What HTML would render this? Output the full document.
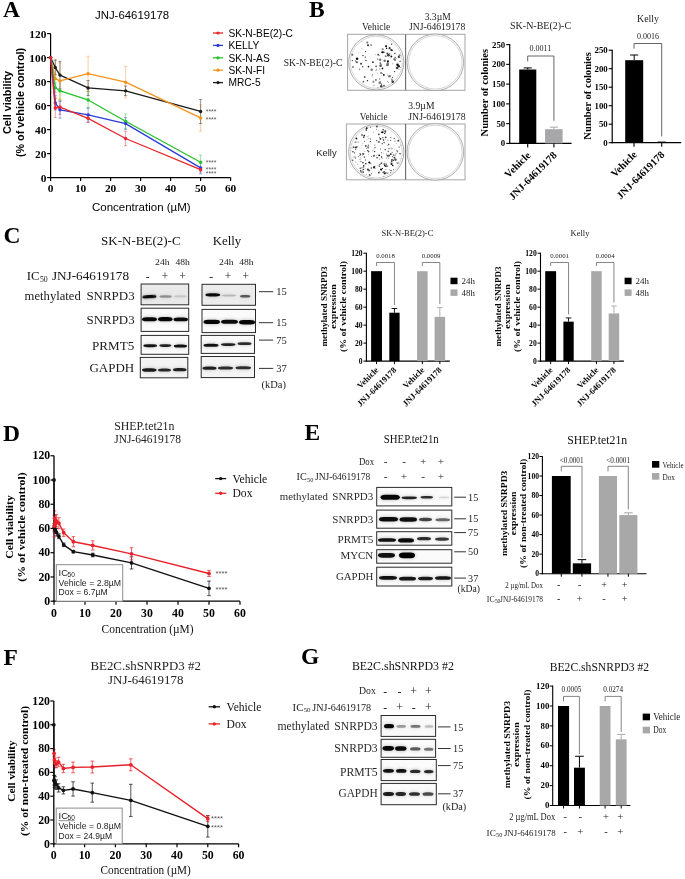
<!DOCTYPE html>
<html><head><meta charset="utf-8"><style>
html,body{margin:0;padding:0;background:#fff;}
svg{display:block;will-change:transform;filter:blur(0.3px);}
</style></head><body>
<svg width="685" height="879" viewBox="0 0 685 879">
<defs><filter id="bl" x="-20%" y="-100%" width="140%" height="300%"><feGaussianBlur stdDeviation="0.7"/></filter><filter id="bl2" x="-30%" y="-150%" width="160%" height="400%"><feGaussianBlur stdDeviation="1.4"/></filter></defs>
<rect width="685" height="879" fill="#fff"/>
<text x="3.00" y="17.30" font-family='"Liberation Serif", serif' font-size="23.5" font-weight="bold" text-anchor="start" fill="#000" >A</text>
<text x="95.00" y="19.30" font-family='"Liberation Sans", sans-serif' font-size="11.4" font-weight="normal" text-anchor="start" fill="#000" >JNJ-64619178</text>
<line x1="50.60" y1="33.60" x2="50.60" y2="178.20" stroke="#000" stroke-width="1.2" />
<line x1="50.00" y1="177.60" x2="230.60" y2="177.60" stroke="#000" stroke-width="1.2" />
<line x1="47.10" y1="177.60" x2="50.60" y2="177.60" stroke="#000" stroke-width="1.2" />
<text x="46.40" y="181.50" font-family='"Liberation Serif", serif' font-size="11.4" font-weight="bold" text-anchor="end" fill="#000" >0</text>
<line x1="47.10" y1="153.60" x2="50.60" y2="153.60" stroke="#000" stroke-width="1.2" />
<text x="46.40" y="157.50" font-family='"Liberation Serif", serif' font-size="11.4" font-weight="bold" text-anchor="end" fill="#000" >20</text>
<line x1="47.10" y1="129.60" x2="50.60" y2="129.60" stroke="#000" stroke-width="1.2" />
<text x="46.40" y="133.50" font-family='"Liberation Serif", serif' font-size="11.4" font-weight="bold" text-anchor="end" fill="#000" >40</text>
<line x1="47.10" y1="105.60" x2="50.60" y2="105.60" stroke="#000" stroke-width="1.2" />
<text x="46.40" y="109.50" font-family='"Liberation Serif", serif' font-size="11.4" font-weight="bold" text-anchor="end" fill="#000" >60</text>
<line x1="47.10" y1="81.60" x2="50.60" y2="81.60" stroke="#000" stroke-width="1.2" />
<text x="46.40" y="85.50" font-family='"Liberation Serif", serif' font-size="11.4" font-weight="bold" text-anchor="end" fill="#000" >80</text>
<line x1="47.10" y1="57.60" x2="50.60" y2="57.60" stroke="#000" stroke-width="1.2" />
<text x="46.40" y="61.50" font-family='"Liberation Serif", serif' font-size="11.4" font-weight="bold" text-anchor="end" fill="#000" >100</text>
<line x1="47.10" y1="33.60" x2="50.60" y2="33.60" stroke="#000" stroke-width="1.2" />
<text x="46.40" y="37.50" font-family='"Liberation Serif", serif' font-size="11.4" font-weight="bold" text-anchor="end" fill="#000" >120</text>
<line x1="50.60" y1="177.60" x2="50.60" y2="181.10" stroke="#000" stroke-width="1.2" />
<text x="50.60" y="192.30" font-family='"Liberation Serif", serif' font-size="11.4" font-weight="bold" text-anchor="middle" fill="#000" >0</text>
<line x1="80.60" y1="177.60" x2="80.60" y2="181.10" stroke="#000" stroke-width="1.2" />
<text x="80.60" y="192.30" font-family='"Liberation Serif", serif' font-size="11.4" font-weight="bold" text-anchor="middle" fill="#000" >10</text>
<line x1="110.60" y1="177.60" x2="110.60" y2="181.10" stroke="#000" stroke-width="1.2" />
<text x="110.60" y="192.30" font-family='"Liberation Serif", serif' font-size="11.4" font-weight="bold" text-anchor="middle" fill="#000" >20</text>
<line x1="140.60" y1="177.60" x2="140.60" y2="181.10" stroke="#000" stroke-width="1.2" />
<text x="140.60" y="192.30" font-family='"Liberation Serif", serif' font-size="11.4" font-weight="bold" text-anchor="middle" fill="#000" >30</text>
<line x1="170.60" y1="177.60" x2="170.60" y2="181.10" stroke="#000" stroke-width="1.2" />
<text x="170.60" y="192.30" font-family='"Liberation Serif", serif' font-size="11.4" font-weight="bold" text-anchor="middle" fill="#000" >40</text>
<line x1="200.60" y1="177.60" x2="200.60" y2="181.10" stroke="#000" stroke-width="1.2" />
<text x="200.60" y="192.30" font-family='"Liberation Serif", serif' font-size="11.4" font-weight="bold" text-anchor="middle" fill="#000" >50</text>
<line x1="230.60" y1="177.60" x2="230.60" y2="181.10" stroke="#000" stroke-width="1.2" />
<text x="230.60" y="192.30" font-family='"Liberation Serif", serif' font-size="11.4" font-weight="bold" text-anchor="middle" fill="#000" >60</text>
<text x="141.30" y="210.70" font-family='"Liberation Sans", sans-serif' font-size="11.5" font-weight="normal" text-anchor="middle" fill="#000" >Concentration (µM)</text>
<text x="11.20" y="102.50" font-family='"Liberation Sans", sans-serif' font-size="10.8" font-weight="bold" text-anchor="middle" fill="#000" transform="rotate(-90 11.20 102.50)" >Cell viability</text>
<text x="23.80" y="102.50" font-family='"Liberation Sans", sans-serif' font-size="10.8" font-weight="bold" text-anchor="middle" fill="#000" transform="rotate(-90 23.80 102.50)" >(% of vehicle control)</text>
<line x1="55.29" y1="117.60" x2="55.29" y2="98.40" stroke="#e8262b" stroke-width="0.8" opacity="0.55"/>
<line x1="53.69" y1="98.40" x2="56.89" y2="98.40" stroke="#e8262b" stroke-width="0.8" opacity="0.55"/>
<line x1="53.69" y1="117.60" x2="56.89" y2="117.60" stroke="#e8262b" stroke-width="0.8" opacity="0.55"/>
<line x1="59.98" y1="114.24" x2="59.98" y2="99.84" stroke="#e8262b" stroke-width="0.8" opacity="0.55"/>
<line x1="58.38" y1="99.84" x2="61.58" y2="99.84" stroke="#e8262b" stroke-width="0.8" opacity="0.55"/>
<line x1="58.38" y1="114.24" x2="61.58" y2="114.24" stroke="#e8262b" stroke-width="0.8" opacity="0.55"/>
<line x1="88.10" y1="122.52" x2="88.10" y2="114.12" stroke="#e8262b" stroke-width="0.8" opacity="0.55"/>
<line x1="86.50" y1="114.12" x2="89.70" y2="114.12" stroke="#e8262b" stroke-width="0.8" opacity="0.55"/>
<line x1="86.50" y1="122.52" x2="89.70" y2="122.52" stroke="#e8262b" stroke-width="0.8" opacity="0.55"/>
<line x1="125.60" y1="145.68" x2="125.60" y2="131.28" stroke="#e8262b" stroke-width="0.8" opacity="0.55"/>
<line x1="124.00" y1="131.28" x2="127.20" y2="131.28" stroke="#e8262b" stroke-width="0.8" opacity="0.55"/>
<line x1="124.00" y1="145.68" x2="127.20" y2="145.68" stroke="#e8262b" stroke-width="0.8" opacity="0.55"/>
<line x1="200.60" y1="172.08" x2="200.60" y2="167.28" stroke="#e8262b" stroke-width="0.8" opacity="0.55"/>
<line x1="199.00" y1="167.28" x2="202.20" y2="167.28" stroke="#e8262b" stroke-width="0.8" opacity="0.55"/>
<line x1="199.00" y1="172.08" x2="202.20" y2="172.08" stroke="#e8262b" stroke-width="0.8" opacity="0.55"/>
<line x1="55.29" y1="110.04" x2="55.29" y2="95.64" stroke="#2b3bd6" stroke-width="0.8" opacity="0.55"/>
<line x1="53.69" y1="95.64" x2="56.89" y2="95.64" stroke="#2b3bd6" stroke-width="0.8" opacity="0.55"/>
<line x1="53.69" y1="110.04" x2="56.89" y2="110.04" stroke="#2b3bd6" stroke-width="0.8" opacity="0.55"/>
<line x1="59.98" y1="118.20" x2="59.98" y2="101.40" stroke="#2b3bd6" stroke-width="0.8" opacity="0.55"/>
<line x1="58.38" y1="101.40" x2="61.58" y2="101.40" stroke="#2b3bd6" stroke-width="0.8" opacity="0.55"/>
<line x1="58.38" y1="118.20" x2="61.58" y2="118.20" stroke="#2b3bd6" stroke-width="0.8" opacity="0.55"/>
<line x1="88.10" y1="122.04" x2="88.10" y2="107.64" stroke="#2b3bd6" stroke-width="0.8" opacity="0.55"/>
<line x1="86.50" y1="107.64" x2="89.70" y2="107.64" stroke="#2b3bd6" stroke-width="0.8" opacity="0.55"/>
<line x1="86.50" y1="122.04" x2="89.70" y2="122.04" stroke="#2b3bd6" stroke-width="0.8" opacity="0.55"/>
<line x1="125.60" y1="129.60" x2="125.60" y2="117.60" stroke="#2b3bd6" stroke-width="0.8" opacity="0.55"/>
<line x1="124.00" y1="117.60" x2="127.20" y2="117.60" stroke="#2b3bd6" stroke-width="0.8" opacity="0.55"/>
<line x1="124.00" y1="129.60" x2="127.20" y2="129.60" stroke="#2b3bd6" stroke-width="0.8" opacity="0.55"/>
<line x1="200.60" y1="173.88" x2="200.60" y2="161.88" stroke="#2b3bd6" stroke-width="0.8" opacity="0.55"/>
<line x1="199.00" y1="161.88" x2="202.20" y2="161.88" stroke="#2b3bd6" stroke-width="0.8" opacity="0.55"/>
<line x1="199.00" y1="173.88" x2="202.20" y2="173.88" stroke="#2b3bd6" stroke-width="0.8" opacity="0.55"/>
<line x1="55.29" y1="92.40" x2="55.29" y2="82.80" stroke="#27c32a" stroke-width="0.8" opacity="0.55"/>
<line x1="53.69" y1="82.80" x2="56.89" y2="82.80" stroke="#27c32a" stroke-width="0.8" opacity="0.55"/>
<line x1="53.69" y1="92.40" x2="56.89" y2="92.40" stroke="#27c32a" stroke-width="0.8" opacity="0.55"/>
<line x1="59.98" y1="100.44" x2="59.98" y2="81.24" stroke="#27c32a" stroke-width="0.8" opacity="0.55"/>
<line x1="58.38" y1="81.24" x2="61.58" y2="81.24" stroke="#27c32a" stroke-width="0.8" opacity="0.55"/>
<line x1="58.38" y1="100.44" x2="61.58" y2="100.44" stroke="#27c32a" stroke-width="0.8" opacity="0.55"/>
<line x1="88.10" y1="108.36" x2="88.10" y2="91.56" stroke="#27c32a" stroke-width="0.8" opacity="0.55"/>
<line x1="86.50" y1="91.56" x2="89.70" y2="91.56" stroke="#27c32a" stroke-width="0.8" opacity="0.55"/>
<line x1="86.50" y1="108.36" x2="89.70" y2="108.36" stroke="#27c32a" stroke-width="0.8" opacity="0.55"/>
<line x1="125.60" y1="128.40" x2="125.60" y2="114.00" stroke="#27c32a" stroke-width="0.8" opacity="0.55"/>
<line x1="124.00" y1="114.00" x2="127.20" y2="114.00" stroke="#27c32a" stroke-width="0.8" opacity="0.55"/>
<line x1="124.00" y1="128.40" x2="127.20" y2="128.40" stroke="#27c32a" stroke-width="0.8" opacity="0.55"/>
<line x1="200.60" y1="169.32" x2="200.60" y2="155.16" stroke="#27c32a" stroke-width="0.8" opacity="0.55"/>
<line x1="199.00" y1="155.16" x2="202.20" y2="155.16" stroke="#27c32a" stroke-width="0.8" opacity="0.55"/>
<line x1="199.00" y1="169.32" x2="202.20" y2="169.32" stroke="#27c32a" stroke-width="0.8" opacity="0.55"/>
<line x1="55.29" y1="97.80" x2="55.29" y2="59.40" stroke="#f4931e" stroke-width="0.8" opacity="0.55"/>
<line x1="53.69" y1="59.40" x2="56.89" y2="59.40" stroke="#f4931e" stroke-width="0.8" opacity="0.55"/>
<line x1="53.69" y1="97.80" x2="56.89" y2="97.80" stroke="#f4931e" stroke-width="0.8" opacity="0.55"/>
<line x1="59.98" y1="98.88" x2="59.98" y2="62.88" stroke="#f4931e" stroke-width="0.8" opacity="0.55"/>
<line x1="58.38" y1="62.88" x2="61.58" y2="62.88" stroke="#f4931e" stroke-width="0.8" opacity="0.55"/>
<line x1="58.38" y1="98.88" x2="61.58" y2="98.88" stroke="#f4931e" stroke-width="0.8" opacity="0.55"/>
<line x1="88.10" y1="91.08" x2="88.10" y2="56.28" stroke="#f4931e" stroke-width="0.8" opacity="0.55"/>
<line x1="86.50" y1="56.28" x2="89.70" y2="56.28" stroke="#f4931e" stroke-width="0.8" opacity="0.55"/>
<line x1="86.50" y1="91.08" x2="89.70" y2="91.08" stroke="#f4931e" stroke-width="0.8" opacity="0.55"/>
<line x1="125.60" y1="97.80" x2="125.60" y2="66.60" stroke="#f4931e" stroke-width="0.8" opacity="0.55"/>
<line x1="124.00" y1="66.60" x2="127.20" y2="66.60" stroke="#f4931e" stroke-width="0.8" opacity="0.55"/>
<line x1="124.00" y1="97.80" x2="127.20" y2="97.80" stroke="#f4931e" stroke-width="0.8" opacity="0.55"/>
<line x1="200.60" y1="131.16" x2="200.60" y2="104.76" stroke="#f4931e" stroke-width="0.8" opacity="0.55"/>
<line x1="199.00" y1="104.76" x2="202.20" y2="104.76" stroke="#f4931e" stroke-width="0.8" opacity="0.55"/>
<line x1="199.00" y1="131.16" x2="202.20" y2="131.16" stroke="#f4931e" stroke-width="0.8" opacity="0.55"/>
<line x1="55.29" y1="74.76" x2="55.29" y2="60.36" stroke="#1a1a1a" stroke-width="0.8" opacity="0.55"/>
<line x1="53.69" y1="60.36" x2="56.89" y2="60.36" stroke="#1a1a1a" stroke-width="0.8" opacity="0.55"/>
<line x1="53.69" y1="74.76" x2="56.89" y2="74.76" stroke="#1a1a1a" stroke-width="0.8" opacity="0.55"/>
<line x1="59.98" y1="88.92" x2="59.98" y2="61.32" stroke="#1a1a1a" stroke-width="0.8" opacity="0.55"/>
<line x1="58.38" y1="61.32" x2="61.58" y2="61.32" stroke="#1a1a1a" stroke-width="0.8" opacity="0.55"/>
<line x1="58.38" y1="88.92" x2="61.58" y2="88.92" stroke="#1a1a1a" stroke-width="0.8" opacity="0.55"/>
<line x1="88.10" y1="95.52" x2="88.10" y2="80.40" stroke="#1a1a1a" stroke-width="0.8" opacity="0.55"/>
<line x1="86.50" y1="80.40" x2="89.70" y2="80.40" stroke="#1a1a1a" stroke-width="0.8" opacity="0.55"/>
<line x1="86.50" y1="95.52" x2="89.70" y2="95.52" stroke="#1a1a1a" stroke-width="0.8" opacity="0.55"/>
<line x1="125.60" y1="95.64" x2="125.60" y2="86.04" stroke="#1a1a1a" stroke-width="0.8" opacity="0.55"/>
<line x1="124.00" y1="86.04" x2="127.20" y2="86.04" stroke="#1a1a1a" stroke-width="0.8" opacity="0.55"/>
<line x1="124.00" y1="95.64" x2="127.20" y2="95.64" stroke="#1a1a1a" stroke-width="0.8" opacity="0.55"/>
<line x1="200.60" y1="123.48" x2="200.60" y2="99.48" stroke="#1a1a1a" stroke-width="0.8" opacity="0.55"/>
<line x1="199.00" y1="99.48" x2="202.20" y2="99.48" stroke="#1a1a1a" stroke-width="0.8" opacity="0.55"/>
<line x1="199.00" y1="123.48" x2="202.20" y2="123.48" stroke="#1a1a1a" stroke-width="0.8" opacity="0.55"/>
<path d="M50.60 57.60 L55.29 67.56 L59.98 75.12 L88.10 87.96 L125.60 90.84 L200.60 111.48" stroke="#1a1a1a" stroke-width="1.3" fill="none"  stroke-linejoin="round"/>
<circle cx="50.60" cy="57.60" r="1.70" fill="#1a1a1a" />
<circle cx="55.29" cy="67.56" r="1.70" fill="#1a1a1a" />
<circle cx="59.98" cy="75.12" r="1.70" fill="#1a1a1a" />
<circle cx="88.10" cy="87.96" r="1.70" fill="#1a1a1a" />
<circle cx="125.60" cy="90.84" r="1.70" fill="#1a1a1a" />
<circle cx="200.60" cy="111.48" r="1.70" fill="#1a1a1a" />
<path d="M50.60 57.60 L55.29 78.60 L59.98 80.88 L88.10 73.68 L125.60 82.20 L200.60 117.96" stroke="#f4931e" stroke-width="1.3" fill="none"  stroke-linejoin="round"/>
<circle cx="50.60" cy="57.60" r="1.70" fill="#f4931e" />
<circle cx="55.29" cy="78.60" r="1.70" fill="#f4931e" />
<circle cx="59.98" cy="80.88" r="1.70" fill="#f4931e" />
<circle cx="88.10" cy="73.68" r="1.70" fill="#f4931e" />
<circle cx="125.60" cy="82.20" r="1.70" fill="#f4931e" />
<circle cx="200.60" cy="117.96" r="1.70" fill="#f4931e" />
<path d="M50.60 57.60 L55.29 87.60 L59.98 90.84 L88.10 99.96 L125.60 121.20 L200.60 162.24" stroke="#27c32a" stroke-width="1.3" fill="none"  stroke-linejoin="round"/>
<circle cx="50.60" cy="57.60" r="1.70" fill="#27c32a" />
<circle cx="55.29" cy="87.60" r="1.70" fill="#27c32a" />
<circle cx="59.98" cy="90.84" r="1.70" fill="#27c32a" />
<circle cx="88.10" cy="99.96" r="1.70" fill="#27c32a" />
<circle cx="125.60" cy="121.20" r="1.70" fill="#27c32a" />
<circle cx="200.60" cy="162.24" r="1.70" fill="#27c32a" />
<path d="M50.60 57.60 L55.29 102.84 L59.98 109.80 L88.10 114.84 L125.60 123.60 L200.60 167.88" stroke="#2b3bd6" stroke-width="1.3" fill="none"  stroke-linejoin="round"/>
<circle cx="50.60" cy="57.60" r="1.70" fill="#2b3bd6" />
<circle cx="55.29" cy="102.84" r="1.70" fill="#2b3bd6" />
<circle cx="59.98" cy="109.80" r="1.70" fill="#2b3bd6" />
<circle cx="88.10" cy="114.84" r="1.70" fill="#2b3bd6" />
<circle cx="125.60" cy="123.60" r="1.70" fill="#2b3bd6" />
<circle cx="200.60" cy="167.88" r="1.70" fill="#2b3bd6" />
<path d="M50.60 57.60 L55.29 108.00 L59.98 107.04 L88.10 118.32 L125.60 138.48 L200.60 169.68" stroke="#e8262b" stroke-width="1.3" fill="none"  stroke-linejoin="round"/>
<circle cx="50.60" cy="57.60" r="1.70" fill="#e8262b" />
<circle cx="55.29" cy="108.00" r="1.70" fill="#e8262b" />
<circle cx="59.98" cy="107.04" r="1.70" fill="#e8262b" />
<circle cx="88.10" cy="118.32" r="1.70" fill="#e8262b" />
<circle cx="125.60" cy="138.48" r="1.70" fill="#e8262b" />
<circle cx="200.60" cy="169.68" r="1.70" fill="#e8262b" />
<line x1="213.00" y1="33.00" x2="223.00" y2="33.00" stroke="#e8262b" stroke-width="1.3" />
<circle cx="218.00" cy="33.00" r="1.60" fill="#e8262b" />
<text x="228.40" y="36.70" font-family='"Liberation Sans", sans-serif' font-size="10.2" font-weight="normal" text-anchor="start" fill="#000" >SK-N-BE(2)-C</text>
<line x1="213.00" y1="45.40" x2="223.00" y2="45.40" stroke="#2b3bd6" stroke-width="1.3" />
<circle cx="218.00" cy="45.40" r="1.60" fill="#2b3bd6" />
<text x="228.40" y="49.10" font-family='"Liberation Sans", sans-serif' font-size="10.2" font-weight="normal" text-anchor="start" fill="#000" >KELLY</text>
<line x1="213.00" y1="57.80" x2="223.00" y2="57.80" stroke="#27c32a" stroke-width="1.3" />
<circle cx="218.00" cy="57.80" r="1.60" fill="#27c32a" />
<text x="228.40" y="61.50" font-family='"Liberation Sans", sans-serif' font-size="10.2" font-weight="normal" text-anchor="start" fill="#000" >SK-N-AS</text>
<line x1="213.00" y1="70.20" x2="223.00" y2="70.20" stroke="#f4931e" stroke-width="1.3" />
<circle cx="218.00" cy="70.20" r="1.60" fill="#f4931e" />
<text x="228.40" y="73.90" font-family='"Liberation Sans", sans-serif' font-size="10.2" font-weight="normal" text-anchor="start" fill="#000" >SK-N-FI</text>
<line x1="213.00" y1="82.60" x2="223.00" y2="82.60" stroke="#1a1a1a" stroke-width="1.3" />
<circle cx="218.00" cy="82.60" r="1.60" fill="#1a1a1a" />
<text x="228.40" y="86.30" font-family='"Liberation Sans", sans-serif' font-size="10.2" font-weight="normal" text-anchor="start" fill="#000" >MRC-5</text>
<text x="205.80" y="114.30" font-family='"Liberation Sans", sans-serif' font-size="6.8" font-weight="normal" text-anchor="start" fill="#555" >****</text>
<text x="205.80" y="121.60" font-family='"Liberation Sans", sans-serif' font-size="6.8" font-weight="normal" text-anchor="start" fill="#555" >****</text>
<text x="205.80" y="165.40" font-family='"Liberation Sans", sans-serif' font-size="6.8" font-weight="normal" text-anchor="start" fill="#555" >****</text>
<text x="205.80" y="171.60" font-family='"Liberation Sans", sans-serif' font-size="6.8" font-weight="normal" text-anchor="start" fill="#555" >****</text>
<text x="205.80" y="176.10" font-family='"Liberation Sans", sans-serif' font-size="6.8" font-weight="normal" text-anchor="start" fill="#555" >****</text>
<text x="309.00" y="17.30" font-family='"Liberation Serif", serif' font-size="23.5" font-weight="bold" text-anchor="start" fill="#000" >B</text>
<rect x="347.60" y="34.30" width="117.40" height="56.00" fill="#fff" stroke="#a5a5a5" stroke-width="1.0" />
<line x1="405.60" y1="34.30" x2="405.60" y2="90.30" stroke="#6a6a6a" stroke-width="1.1" />
<circle cx="376.30" cy="62.30" r="27.60" fill="#fff" stroke="#999" stroke-width="0.8"/>
<circle cx="376.30" cy="62.30" r="26.00" fill="none" stroke="#bbb" stroke-width="0.6"/>
<circle cx="392.00" cy="79.96" r="0.66" fill="#000" />
<circle cx="378.19" cy="54.67" r="0.84" fill="#333" />
<circle cx="373.95" cy="85.16" r="0.48" fill="#222" />
<circle cx="380.32" cy="63.08" r="0.84" fill="#555" />
<circle cx="379.77" cy="78.61" r="0.60" fill="#777" />
<circle cx="359.59" cy="69.18" r="0.60" fill="#555" />
<circle cx="379.69" cy="79.37" r="0.42" fill="#333" />
<circle cx="386.31" cy="45.98" r="0.54" fill="#555" />
<circle cx="400.08" cy="61.19" r="0.72" fill="#555" />
<circle cx="394.21" cy="59.26" r="1.08" fill="#777" />
<circle cx="385.75" cy="56.32" r="0.96" fill="#777" />
<circle cx="391.30" cy="56.46" r="0.96" fill="#111" />
<circle cx="375.74" cy="54.77" r="0.48" fill="#777" />
<circle cx="388.44" cy="82.45" r="0.42" fill="#333" />
<circle cx="397.03" cy="68.11" r="1.26" fill="#444" />
<circle cx="367.99" cy="68.87" r="0.42" fill="#777" />
<circle cx="383.98" cy="85.69" r="0.84" fill="#444" />
<circle cx="363.16" cy="81.94" r="0.66" fill="#555" />
<circle cx="352.32" cy="54.84" r="1.08" fill="#777" />
<circle cx="391.87" cy="78.72" r="0.42" fill="#333" />
<circle cx="389.57" cy="48.17" r="1.08" fill="#333" />
<circle cx="361.04" cy="63.75" r="1.08" fill="#444" />
<circle cx="361.96" cy="48.23" r="0.42" fill="#777" />
<circle cx="377.68" cy="73.02" r="0.48" fill="#777" />
<circle cx="400.72" cy="67.35" r="0.42" fill="#333" />
<circle cx="398.52" cy="64.34" r="0.48" fill="#777" />
<circle cx="365.63" cy="51.66" r="0.54" fill="#222" />
<circle cx="365.93" cy="60.50" r="0.66" fill="#333" />
<circle cx="371.00" cy="45.01" r="0.66" fill="#333" />
<circle cx="363.62" cy="81.38" r="0.66" fill="#555" />
<circle cx="377.81" cy="58.92" r="0.54" fill="#000" />
<circle cx="368.04" cy="45.25" r="1.08" fill="#333" />
<circle cx="379.76" cy="82.68" r="1.26" fill="#777" />
<circle cx="367.47" cy="80.68" r="0.66" fill="#111" />
<circle cx="399.83" cy="57.49" r="0.48" fill="#222" />
<circle cx="388.45" cy="55.33" r="1.26" fill="#222" />
<circle cx="389.42" cy="76.34" r="1.26" fill="#777" />
<circle cx="381.23" cy="86.16" r="1.26" fill="#444" />
<circle cx="387.47" cy="64.98" r="1.26" fill="#555" />
<circle cx="392.02" cy="50.36" r="0.84" fill="#222" />
<circle cx="372.93" cy="62.21" r="0.84" fill="#222" />
<circle cx="387.73" cy="63.60" r="1.26" fill="#777" />
<circle cx="387.41" cy="74.92" r="0.48" fill="#777" />
<circle cx="386.12" cy="46.31" r="1.08" fill="#111" />
<circle cx="381.03" cy="64.36" r="0.54" fill="#444" />
<circle cx="381.46" cy="84.06" r="0.66" fill="#222" />
<circle cx="371.71" cy="69.65" r="1.26" fill="#777" />
<circle cx="399.49" cy="55.45" r="1.08" fill="#777" />
<circle cx="380.33" cy="65.39" r="0.54" fill="#777" />
<circle cx="382.45" cy="68.45" r="0.84" fill="#000" />
<circle cx="365.34" cy="57.08" r="0.66" fill="#222" />
<circle cx="391.22" cy="50.08" r="0.96" fill="#222" />
<circle cx="380.58" cy="65.74" r="1.26" fill="#555" />
<circle cx="392.74" cy="63.81" r="0.42" fill="#111" />
<circle cx="377.96" cy="87.76" r="0.48" fill="#333" />
<circle cx="382.56" cy="73.25" r="0.48" fill="#333" />
<circle cx="389.67" cy="53.91" r="0.66" fill="#444" />
<circle cx="375.92" cy="80.02" r="0.72" fill="#000" />
<circle cx="398.74" cy="66.18" r="1.26" fill="#222" />
<circle cx="362.64" cy="66.75" r="0.72" fill="#444" />
<circle cx="384.71" cy="60.68" r="1.26" fill="#777" />
<circle cx="395.06" cy="59.92" r="0.72" fill="#222" />
<circle cx="381.07" cy="72.99" r="0.72" fill="#000" />
<circle cx="379.57" cy="55.35" r="0.48" fill="#555" />
<circle cx="362.96" cy="55.57" r="0.66" fill="#000" />
<circle cx="387.38" cy="53.54" r="1.08" fill="#444" />
<circle cx="358.88" cy="52.86" r="0.42" fill="#777" />
<circle cx="376.57" cy="69.20" r="0.48" fill="#555" />
<circle cx="394.52" cy="71.60" r="0.72" fill="#333" />
<circle cx="352.96" cy="66.93" r="0.72" fill="#000" />
<circle cx="355.40" cy="61.08" r="0.54" fill="#111" />
<circle cx="382.61" cy="49.23" r="1.08" fill="#777" />
<circle cx="388.46" cy="55.55" r="0.54" fill="#444" />
<circle cx="380.17" cy="59.86" r="1.26" fill="#777" />
<circle cx="387.89" cy="61.35" r="1.08" fill="#111" />
<circle cx="399.03" cy="69.46" r="0.48" fill="#555" />
<circle cx="398.77" cy="57.04" r="1.08" fill="#333" />
<circle cx="386.57" cy="48.40" r="0.72" fill="#111" />
<circle cx="376.10" cy="66.31" r="0.84" fill="#444" />
<circle cx="397.50" cy="64.83" r="1.26" fill="#111" />
<circle cx="392.71" cy="81.76" r="1.26" fill="#333" />
<circle cx="379.90" cy="69.07" r="0.54" fill="#444" />
<circle cx="394.87" cy="53.58" r="0.72" fill="#333" />
<circle cx="361.86" cy="41.51" r="0.48" fill="#777" />
<circle cx="352.32" cy="60.54" r="0.60" fill="#222" />
<circle cx="372.07" cy="75.70" r="0.54" fill="#555" />
<circle cx="371.03" cy="45.61" r="0.48" fill="#444" />
<circle cx="395.09" cy="57.48" r="0.66" fill="#333" />
<circle cx="380.21" cy="81.27" r="0.42" fill="#333" />
<circle cx="367.25" cy="42.54" r="1.08" fill="#777" />
<circle cx="387.49" cy="81.16" r="0.48" fill="#777" />
<circle cx="376.03" cy="70.45" r="0.48" fill="#111" />
<circle cx="396.08" cy="58.43" r="0.48" fill="#333" />
<circle cx="383.77" cy="52.15" r="0.84" fill="#333" />
<circle cx="383.77" cy="74.89" r="0.96" fill="#111" />
<circle cx="390.87" cy="75.84" r="0.48" fill="#555" />
<circle cx="372.70" cy="74.57" r="0.42" fill="#111" />
<circle cx="357.08" cy="58.84" r="1.26" fill="#111" />
<circle cx="382.26" cy="52.27" r="1.08" fill="#111" />
<circle cx="373.44" cy="81.74" r="0.96" fill="#777" />
<circle cx="391.57" cy="44.13" r="0.72" fill="#333" />
<circle cx="368.45" cy="66.62" r="0.84" fill="#111" />
<circle cx="392.66" cy="77.29" r="0.54" fill="#000" />
<circle cx="356.88" cy="62.25" r="1.08" fill="#555" />
<circle cx="364.70" cy="76.91" r="0.96" fill="#555" />
<circle cx="435.30" cy="62.30" r="28.30" fill="#fff" stroke="#999" stroke-width="0.8"/>
<circle cx="435.30" cy="62.30" r="26.70" fill="none" stroke="#bbb" stroke-width="0.6"/>
<rect x="346.40" y="124.00" width="118.60" height="55.80" fill="#fff" stroke="#a5a5a5" stroke-width="1.0" />
<line x1="405.60" y1="124.00" x2="405.60" y2="179.80" stroke="#6a6a6a" stroke-width="1.1" />
<circle cx="376.30" cy="151.90" r="27.60" fill="#fff" stroke="#999" stroke-width="0.8"/>
<circle cx="376.30" cy="151.90" r="26.00" fill="none" stroke="#bbb" stroke-width="0.6"/>
<circle cx="400.34" cy="145.08" r="0.40" fill="#222" />
<circle cx="369.16" cy="170.56" r="1.05" fill="#555" />
<circle cx="385.47" cy="166.03" r="0.90" fill="#222" />
<circle cx="359.84" cy="147.21" r="0.35" fill="#777" />
<circle cx="393.54" cy="154.90" r="0.70" fill="#333" />
<circle cx="390.77" cy="140.20" r="0.50" fill="#111" />
<circle cx="390.77" cy="154.09" r="0.90" fill="#222" />
<circle cx="397.38" cy="151.73" r="0.80" fill="#777" />
<circle cx="360.31" cy="161.40" r="0.60" fill="#777" />
<circle cx="352.66" cy="160.28" r="0.80" fill="#555" />
<circle cx="352.89" cy="151.78" r="0.80" fill="#333" />
<circle cx="363.36" cy="169.53" r="0.80" fill="#333" />
<circle cx="378.86" cy="134.31" r="0.90" fill="#444" />
<circle cx="355.71" cy="149.59" r="0.55" fill="#555" />
<circle cx="381.11" cy="169.62" r="1.05" fill="#000" />
<circle cx="379.51" cy="137.25" r="0.50" fill="#555" />
<circle cx="391.58" cy="163.93" r="1.05" fill="#111" />
<circle cx="384.96" cy="161.91" r="0.35" fill="#333" />
<circle cx="394.23" cy="138.52" r="0.60" fill="#111" />
<circle cx="376.31" cy="155.83" r="0.40" fill="#000" />
<circle cx="400.09" cy="158.15" r="0.45" fill="#777" />
<circle cx="396.55" cy="143.28" r="0.35" fill="#333" />
<circle cx="356.95" cy="139.71" r="0.35" fill="#000" />
<circle cx="365.07" cy="168.61" r="0.40" fill="#222" />
<circle cx="373.95" cy="155.75" r="1.05" fill="#555" />
<circle cx="388.95" cy="155.64" r="1.05" fill="#555" />
<circle cx="390.63" cy="172.55" r="0.60" fill="#777" />
<circle cx="390.07" cy="162.17" r="0.45" fill="#444" />
<circle cx="362.45" cy="143.71" r="0.45" fill="#777" />
<circle cx="388.95" cy="148.63" r="0.70" fill="#555" />
<circle cx="395.35" cy="154.07" r="0.35" fill="#222" />
<circle cx="386.38" cy="154.06" r="0.50" fill="#444" />
<circle cx="394.99" cy="141.07" r="0.50" fill="#111" />
<circle cx="374.73" cy="145.12" r="0.50" fill="#444" />
<circle cx="381.54" cy="132.31" r="0.70" fill="#222" />
<circle cx="374.54" cy="151.61" r="0.70" fill="#111" />
<circle cx="393.02" cy="165.94" r="0.40" fill="#000" />
<circle cx="381.43" cy="163.13" r="0.90" fill="#555" />
<circle cx="362.37" cy="155.07" r="0.50" fill="#555" />
<circle cx="359.51" cy="159.32" r="0.35" fill="#333" />
<circle cx="367.09" cy="136.69" r="0.40" fill="#444" />
<circle cx="362.05" cy="167.77" r="0.55" fill="#000" />
<circle cx="387.91" cy="140.20" r="0.50" fill="#777" />
<circle cx="395.35" cy="159.44" r="1.05" fill="#444" />
<circle cx="388.54" cy="158.02" r="0.40" fill="#111" />
<circle cx="376.65" cy="140.65" r="0.70" fill="#555" />
<circle cx="354.61" cy="157.00" r="0.40" fill="#222" />
<circle cx="381.55" cy="156.94" r="0.70" fill="#111" />
<circle cx="374.88" cy="148.13" r="0.35" fill="#555" />
<circle cx="386.21" cy="164.10" r="0.80" fill="#555" />
<circle cx="383.49" cy="139.91" r="0.80" fill="#444" />
<circle cx="375.31" cy="168.66" r="0.40" fill="#444" />
<circle cx="373.59" cy="132.61" r="0.45" fill="#444" />
<circle cx="386.33" cy="165.09" r="0.40" fill="#555" />
<circle cx="396.91" cy="150.43" r="0.55" fill="#333" />
<circle cx="378.71" cy="172.78" r="0.80" fill="#111" />
<circle cx="367.80" cy="150.61" r="0.70" fill="#000" />
<circle cx="370.22" cy="163.16" r="0.45" fill="#111" />
<circle cx="355.42" cy="157.13" r="0.60" fill="#777" />
<circle cx="378.27" cy="130.07" r="0.35" fill="#777" />
<circle cx="356.38" cy="138.33" r="0.90" fill="#000" />
<circle cx="360.07" cy="153.70" r="0.70" fill="#555" />
<circle cx="367.08" cy="139.56" r="0.40" fill="#777" />
<circle cx="385.57" cy="132.10" r="0.50" fill="#333" />
<circle cx="388.66" cy="144.59" r="0.80" fill="#555" />
<circle cx="379.78" cy="158.98" r="0.50" fill="#555" />
<circle cx="361.84" cy="145.18" r="0.40" fill="#333" />
<circle cx="385.31" cy="131.30" r="1.05" fill="#444" />
<circle cx="384.57" cy="173.38" r="1.05" fill="#555" />
<circle cx="364.45" cy="157.08" r="0.80" fill="#555" />
<circle cx="383.34" cy="176.14" r="0.35" fill="#333" />
<circle cx="355.76" cy="147.56" r="1.05" fill="#333" />
<circle cx="398.26" cy="140.70" r="0.90" fill="#333" />
<circle cx="383.44" cy="153.15" r="0.45" fill="#777" />
<circle cx="376.34" cy="129.17" r="0.45" fill="#000" />
<circle cx="384.58" cy="165.42" r="0.55" fill="#111" />
<circle cx="363.72" cy="165.91" r="0.80" fill="#111" />
<circle cx="396.95" cy="162.70" r="0.55" fill="#555" />
<circle cx="364.54" cy="151.27" r="0.45" fill="#777" />
<circle cx="368.64" cy="151.68" r="0.80" fill="#444" />
<circle cx="377.82" cy="165.34" r="0.40" fill="#555" />
<circle cx="382.91" cy="137.54" r="0.60" fill="#222" />
<circle cx="391.65" cy="160.01" r="0.80" fill="#777" />
<circle cx="369.97" cy="175.34" r="0.80" fill="#555" />
<circle cx="379.15" cy="165.01" r="0.50" fill="#333" />
<circle cx="384.14" cy="171.54" r="0.60" fill="#111" />
<circle cx="363.12" cy="172.03" r="0.90" fill="#444" />
<circle cx="376.86" cy="126.51" r="1.05" fill="#555" />
<circle cx="368.86" cy="138.23" r="0.45" fill="#222" />
<circle cx="391.04" cy="147.89" r="0.45" fill="#222" />
<circle cx="385.17" cy="149.66" r="0.60" fill="#111" />
<circle cx="360.73" cy="170.93" r="0.70" fill="#000" />
<circle cx="365.75" cy="160.64" r="0.45" fill="#222" />
<circle cx="366.30" cy="174.49" r="0.45" fill="#777" />
<circle cx="379.94" cy="164.23" r="0.55" fill="#000" />
<circle cx="369.29" cy="162.54" r="1.05" fill="#000" />
<circle cx="368.20" cy="165.32" r="0.35" fill="#777" />
<circle cx="390.92" cy="170.52" r="0.55" fill="#111" />
<circle cx="367.89" cy="169.49" r="1.05" fill="#333" />
<circle cx="377.13" cy="157.81" r="0.80" fill="#444" />
<circle cx="391.75" cy="161.78" r="0.80" fill="#333" />
<circle cx="385.65" cy="137.33" r="0.90" fill="#333" />
<circle cx="393.51" cy="169.82" r="0.45" fill="#000" />
<circle cx="362.74" cy="162.75" r="0.55" fill="#000" />
<circle cx="370.41" cy="141.38" r="0.70" fill="#555" />
<circle cx="353.08" cy="157.02" r="0.40" fill="#333" />
<circle cx="379.16" cy="155.34" r="0.90" fill="#000" />
<circle cx="394.40" cy="157.57" r="0.90" fill="#222" />
<circle cx="366.33" cy="130.05" r="0.80" fill="#000" />
<circle cx="382.23" cy="158.35" r="0.50" fill="#777" />
<circle cx="387.55" cy="155.80" r="1.05" fill="#555" />
<circle cx="351.74" cy="150.81" r="0.40" fill="#777" />
<circle cx="384.70" cy="133.39" r="0.70" fill="#111" />
<circle cx="371.36" cy="168.01" r="0.70" fill="#222" />
<circle cx="383.13" cy="129.81" r="0.80" fill="#222" />
<circle cx="371.48" cy="173.83" r="0.50" fill="#333" />
<circle cx="395.01" cy="155.54" r="0.50" fill="#333" />
<circle cx="358.22" cy="141.99" r="0.55" fill="#555" />
<circle cx="384.13" cy="142.59" r="0.60" fill="#000" />
<circle cx="366.72" cy="128.13" r="0.90" fill="#111" />
<circle cx="384.32" cy="164.12" r="0.90" fill="#444" />
<circle cx="398.47" cy="161.91" r="0.35" fill="#333" />
<circle cx="369.30" cy="174.68" r="0.55" fill="#000" />
<circle cx="379.59" cy="166.35" r="0.70" fill="#444" />
<circle cx="351.94" cy="147.97" r="0.45" fill="#555" />
<circle cx="387.76" cy="172.99" r="0.60" fill="#333" />
<circle cx="363.53" cy="154.07" r="0.80" fill="#333" />
<circle cx="382.55" cy="168.34" r="0.55" fill="#000" />
<circle cx="385.87" cy="169.42" r="0.50" fill="#777" />
<circle cx="370.41" cy="138.93" r="0.55" fill="#000" />
<circle cx="400.17" cy="153.80" r="0.60" fill="#000" />
<circle cx="370.85" cy="163.69" r="0.60" fill="#777" />
<circle cx="360.82" cy="157.96" r="0.35" fill="#222" />
<circle cx="368.13" cy="147.42" r="1.05" fill="#777" />
<circle cx="371.66" cy="156.50" r="0.55" fill="#555" />
<circle cx="391.74" cy="160.68" r="0.50" fill="#111" />
<circle cx="379.19" cy="171.88" r="0.60" fill="#444" />
<circle cx="364.30" cy="141.22" r="0.50" fill="#444" />
<circle cx="395.68" cy="159.84" r="1.05" fill="#555" />
<circle cx="363.16" cy="162.60" r="0.70" fill="#333" />
<circle cx="360.68" cy="154.40" r="0.50" fill="#000" />
<circle cx="353.58" cy="147.18" r="0.90" fill="#555" />
<circle cx="392.27" cy="152.26" r="0.50" fill="#444" />
<circle cx="374.09" cy="167.24" r="0.80" fill="#444" />
<circle cx="392.04" cy="159.34" r="0.55" fill="#000" />
<circle cx="381.46" cy="152.86" r="0.50" fill="#222" />
<circle cx="376.61" cy="157.55" r="0.55" fill="#777" />
<circle cx="391.66" cy="163.37" r="0.45" fill="#333" />
<circle cx="375.05" cy="147.34" r="0.55" fill="#333" />
<circle cx="394.61" cy="157.48" r="0.40" fill="#444" />
<circle cx="363.57" cy="167.37" r="0.55" fill="#777" />
<circle cx="362.77" cy="153.77" r="0.45" fill="#000" />
<circle cx="392.56" cy="156.55" r="0.60" fill="#555" />
<circle cx="394.83" cy="148.96" r="0.40" fill="#555" />
<circle cx="356.90" cy="146.88" r="0.70" fill="#111" />
<circle cx="378.91" cy="141.88" r="1.05" fill="#777" />
<circle cx="399.13" cy="147.02" r="0.55" fill="#000" />
<circle cx="380.55" cy="148.99" r="0.50" fill="#333" />
<circle cx="387.09" cy="145.31" r="0.40" fill="#000" />
<circle cx="365.79" cy="145.95" r="0.90" fill="#333" />
<circle cx="355.93" cy="161.95" r="0.45" fill="#333" />
<circle cx="385.83" cy="173.07" r="1.05" fill="#777" />
<circle cx="382.58" cy="132.22" r="1.05" fill="#111" />
<circle cx="382.19" cy="144.07" r="0.45" fill="#111" />
<circle cx="363.75" cy="137.14" r="0.80" fill="#333" />
<circle cx="360.02" cy="155.60" r="0.50" fill="#222" />
<circle cx="373.20" cy="148.93" r="0.35" fill="#444" />
<circle cx="363.30" cy="153.77" r="0.80" fill="#555" />
<circle cx="358.43" cy="156.85" r="0.50" fill="#444" />
<circle cx="382.20" cy="143.52" r="0.60" fill="#333" />
<circle cx="392.69" cy="165.41" r="0.70" fill="#000" />
<circle cx="360.40" cy="159.06" r="0.40" fill="#555" />
<circle cx="392.01" cy="148.64" r="0.60" fill="#777" />
<circle cx="366.52" cy="148.24" r="0.45" fill="#333" />
<circle cx="355.71" cy="158.43" r="0.45" fill="#333" />
<circle cx="375.04" cy="166.20" r="0.55" fill="#555" />
<circle cx="370.69" cy="127.25" r="0.60" fill="#555" />
<circle cx="396.00" cy="153.33" r="0.40" fill="#000" />
<circle cx="399.73" cy="153.48" r="0.60" fill="#555" />
<circle cx="357.86" cy="164.26" r="0.40" fill="#444" />
<circle cx="368.88" cy="154.59" r="0.35" fill="#222" />
<circle cx="354.63" cy="152.79" r="0.60" fill="#333" />
<circle cx="390.82" cy="137.40" r="0.50" fill="#555" />
<circle cx="368.34" cy="145.12" r="0.70" fill="#444" />
<circle cx="386.48" cy="158.00" r="0.60" fill="#777" />
<circle cx="360.39" cy="168.47" r="0.90" fill="#777" />
<circle cx="364.26" cy="135.58" r="0.80" fill="#111" />
<circle cx="365.70" cy="159.82" r="0.45" fill="#000" />
<circle cx="361.65" cy="161.75" r="0.45" fill="#555" />
<circle cx="383.17" cy="172.25" r="0.80" fill="#444" />
<circle cx="388.25" cy="151.39" r="0.80" fill="#777" />
<circle cx="362.06" cy="135.00" r="1.05" fill="#777" />
<circle cx="391.55" cy="154.00" r="0.35" fill="#444" />
<circle cx="365.83" cy="163.77" r="0.80" fill="#111" />
<circle cx="391.31" cy="170.73" r="0.40" fill="#222" />
<circle cx="386.99" cy="166.20" r="0.90" fill="#555" />
<circle cx="380.45" cy="138.80" r="0.90" fill="#111" />
<circle cx="397.93" cy="163.41" r="0.55" fill="#333" />
<circle cx="385.50" cy="139.80" r="0.40" fill="#777" />
<circle cx="384.77" cy="173.45" r="0.60" fill="#000" />
<circle cx="374.07" cy="167.42" r="1.05" fill="#111" />
<circle cx="361.37" cy="172.09" r="0.50" fill="#222" />
<circle cx="372.84" cy="150.70" r="0.45" fill="#555" />
<circle cx="393.25" cy="160.35" r="0.80" fill="#333" />
<circle cx="368.40" cy="135.95" r="0.40" fill="#555" />
<circle cx="389.21" cy="169.79" r="0.40" fill="#111" />
<circle cx="362.16" cy="170.80" r="0.55" fill="#777" />
<circle cx="354.30" cy="142.14" r="0.40" fill="#111" />
<circle cx="355.90" cy="142.05" r="0.60" fill="#000" />
<circle cx="391.13" cy="137.08" r="0.35" fill="#777" />
<circle cx="435.30" cy="151.90" r="28.30" fill="#fff" stroke="#999" stroke-width="0.8"/>
<circle cx="435.30" cy="151.90" r="26.70" fill="none" stroke="#bbb" stroke-width="0.6"/>
<text x="362.00" y="30.20" font-family='"Liberation Serif", serif' font-size="9.6" font-weight="normal" text-anchor="start" fill="#222"  textLength="28.3" lengthAdjust="spacingAndGlyphs">Vehicle</text>
<text x="409.00" y="30.20" font-family='"Liberation Serif", serif' font-size="9.6" font-weight="normal" text-anchor="start" fill="#222"  textLength="56.2" lengthAdjust="spacingAndGlyphs">JNJ-64619178</text>
<text x="424.70" y="19.60" font-family='"Liberation Serif", serif' font-size="9.6" font-weight="normal" text-anchor="start" fill="#222"  textLength="26" lengthAdjust="spacingAndGlyphs">3.3µM</text>
<text x="359.80" y="119.60" font-family='"Liberation Serif", serif' font-size="9.6" font-weight="normal" text-anchor="start" fill="#222"  textLength="27.7" lengthAdjust="spacingAndGlyphs">Vehicle</text>
<text x="408.30" y="119.60" font-family='"Liberation Serif", serif' font-size="9.6" font-weight="normal" text-anchor="start" fill="#222"  textLength="57.3" lengthAdjust="spacingAndGlyphs">JNJ-64619178</text>
<text x="408.30" y="109.20" font-family='"Liberation Serif", serif' font-size="9.6" font-weight="normal" text-anchor="start" fill="#222"  textLength="26.2" lengthAdjust="spacingAndGlyphs">3.9µM</text>
<text x="283.80" y="66.10" font-family='"Liberation Serif", serif' font-size="9.7" font-weight="normal" text-anchor="start" fill="#222"  textLength="58.5" lengthAdjust="spacingAndGlyphs">SK-N-BE(2)-C</text>
<text x="316.30" y="155.70" font-family='"Liberation Sans", sans-serif' font-size="9.6" font-weight="normal" text-anchor="start" fill="#222"  textLength="20.3" lengthAdjust="spacingAndGlyphs">Kelly</text>
<line x1="509.70" y1="44.10" x2="509.70" y2="144.00" stroke="#000" stroke-width="1.2" />
<line x1="509.10" y1="143.40" x2="571.60" y2="143.40" stroke="#000" stroke-width="1.2" />
<line x1="506.20" y1="143.40" x2="509.70" y2="143.40" stroke="#000" stroke-width="1.1" />
<text x="505.20" y="146.40" font-family='"Liberation Serif", serif' font-size="8.8" font-weight="bold" text-anchor="end" fill="#000" >0</text>
<line x1="506.20" y1="123.64" x2="509.70" y2="123.64" stroke="#000" stroke-width="1.1" />
<text x="505.20" y="126.64" font-family='"Liberation Serif", serif' font-size="8.8" font-weight="bold" text-anchor="end" fill="#000" >50</text>
<line x1="506.20" y1="103.88" x2="509.70" y2="103.88" stroke="#000" stroke-width="1.1" />
<text x="505.20" y="106.88" font-family='"Liberation Serif", serif' font-size="8.8" font-weight="bold" text-anchor="end" fill="#000" >100</text>
<line x1="506.20" y1="84.12" x2="509.70" y2="84.12" stroke="#000" stroke-width="1.1" />
<text x="505.20" y="87.12" font-family='"Liberation Serif", serif' font-size="8.8" font-weight="bold" text-anchor="end" fill="#000" >150</text>
<line x1="506.20" y1="64.36" x2="509.70" y2="64.36" stroke="#000" stroke-width="1.1" />
<text x="505.20" y="67.36" font-family='"Liberation Serif", serif' font-size="8.8" font-weight="bold" text-anchor="end" fill="#000" >200</text>
<line x1="506.20" y1="44.60" x2="509.70" y2="44.60" stroke="#000" stroke-width="1.1" />
<text x="505.20" y="47.60" font-family='"Liberation Serif", serif' font-size="8.8" font-weight="bold" text-anchor="end" fill="#000" >250</text>
<rect x="519.20" y="69.50" width="17.10" height="73.90" fill="#000" stroke="none" stroke-width="1" />
<line x1="527.75" y1="69.50" x2="527.75" y2="67.92" stroke="#000" stroke-width="1" />
<line x1="523.75" y1="67.92" x2="531.75" y2="67.92" stroke="#000" stroke-width="1" />
<rect x="545.10" y="129.17" width="17.50" height="14.23" fill="#a7a7aa" stroke="none" stroke-width="1" />
<line x1="553.85" y1="129.17" x2="553.85" y2="127.20" stroke="#a7a7aa" stroke-width="1" />
<line x1="549.85" y1="127.20" x2="557.85" y2="127.20" stroke="#a7a7aa" stroke-width="1" />
<line x1="527.70" y1="143.40" x2="527.70" y2="147.40" stroke="#000" stroke-width="1.1" />
<line x1="553.90" y1="143.40" x2="553.90" y2="147.40" stroke="#000" stroke-width="1.1" />
<text x="540.55" y="29.10" font-family='"Liberation Serif", serif' font-size="10.3" font-weight="normal" text-anchor="middle" fill="#222"  textLength="61" lengthAdjust="spacingAndGlyphs">SK-N-BE(2)-C</text>
<path d="M527.70 61.40 L527.70 56.00 L553.90 56.00 L553.90 120.80" stroke="#555" stroke-width="0.9" fill="none" />
<text x="540.45" y="51.00" font-family='"Liberation Serif", serif' font-size="8" font-weight="normal" text-anchor="middle" fill="#1a1a1a" >0.0011</text>
<text x="487.60" y="92.70" font-family='"Liberation Serif", serif' font-size="10.6" font-weight="bold" text-anchor="middle" fill="#000" transform="rotate(-90 487.60 92.70)" >Number of colonies</text>
<text x="531.20" y="155.90" font-family='"Liberation Serif", serif' font-size="10.4" font-weight="bold" text-anchor="end" fill="#000" transform="rotate(-45 531.20 155.90)" >Vehicle</text>
<text x="557.40" y="155.90" font-family='"Liberation Serif", serif' font-size="10.4" font-weight="bold" text-anchor="end" fill="#000" transform="rotate(-45 557.40 155.90)" >JNJ-64619178</text>
<line x1="612.20" y1="49.70" x2="612.20" y2="143.30" stroke="#000" stroke-width="1.2" />
<line x1="611.60" y1="142.70" x2="681.20" y2="142.70" stroke="#000" stroke-width="1.2" />
<line x1="608.70" y1="142.70" x2="612.20" y2="142.70" stroke="#000" stroke-width="1.1" />
<text x="607.70" y="145.70" font-family='"Liberation Serif", serif' font-size="8.8" font-weight="bold" text-anchor="end" fill="#000" >0</text>
<line x1="608.70" y1="124.20" x2="612.20" y2="124.20" stroke="#000" stroke-width="1.1" />
<text x="607.70" y="127.20" font-family='"Liberation Serif", serif' font-size="8.8" font-weight="bold" text-anchor="end" fill="#000" >50</text>
<line x1="608.70" y1="105.70" x2="612.20" y2="105.70" stroke="#000" stroke-width="1.1" />
<text x="607.70" y="108.70" font-family='"Liberation Serif", serif' font-size="8.8" font-weight="bold" text-anchor="end" fill="#000" >100</text>
<line x1="608.70" y1="87.20" x2="612.20" y2="87.20" stroke="#000" stroke-width="1.1" />
<text x="607.70" y="90.20" font-family='"Liberation Serif", serif' font-size="8.8" font-weight="bold" text-anchor="end" fill="#000" >150</text>
<line x1="608.70" y1="68.70" x2="612.20" y2="68.70" stroke="#000" stroke-width="1.1" />
<text x="607.70" y="71.70" font-family='"Liberation Serif", serif' font-size="8.8" font-weight="bold" text-anchor="end" fill="#000" >200</text>
<line x1="608.70" y1="50.20" x2="612.20" y2="50.20" stroke="#000" stroke-width="1.1" />
<text x="607.70" y="53.20" font-family='"Liberation Serif", serif' font-size="8.8" font-weight="bold" text-anchor="end" fill="#000" >250</text>
<rect x="625.20" y="60.19" width="18.00" height="82.51" fill="#000" stroke="none" stroke-width="1" />
<line x1="634.20" y1="60.19" x2="634.20" y2="55.01" stroke="#000" stroke-width="1" />
<line x1="630.20" y1="55.01" x2="638.20" y2="55.01" stroke="#000" stroke-width="1" />
<rect x="657.40" y="141.59" width="8.40" height="1.11" fill="#000" stroke="none" stroke-width="1" />
<line x1="634.00" y1="142.70" x2="634.00" y2="146.70" stroke="#000" stroke-width="1.1" />
<line x1="661.70" y1="142.70" x2="661.70" y2="146.70" stroke="#000" stroke-width="1.1" />
<text x="648.00" y="22.40" font-family='"Liberation Serif", serif' font-size="10.3" font-weight="normal" text-anchor="middle" fill="#222"  textLength="22" lengthAdjust="spacingAndGlyphs">Kelly</text>
<path d="M634.00 48.70 L634.00 43.50 L661.70 43.50 L661.70 136.50" stroke="#555" stroke-width="0.9" fill="none" />
<text x="648.00" y="38.50" font-family='"Liberation Serif", serif' font-size="8" font-weight="normal" text-anchor="middle" fill="#1a1a1a" >0.0016</text>
<text x="591.20" y="95.90" font-family='"Liberation Serif", serif' font-size="10.6" font-weight="bold" text-anchor="middle" fill="#000" transform="rotate(-90 591.20 95.90)" >Number of colonies</text>
<text x="637.50" y="155.20" font-family='"Liberation Serif", serif' font-size="10.4" font-weight="bold" text-anchor="end" fill="#000" transform="rotate(-45 637.50 155.20)" >Vehicle</text>
<text x="665.20" y="155.20" font-family='"Liberation Serif", serif' font-size="10.4" font-weight="bold" text-anchor="end" fill="#000" transform="rotate(-45 665.20 155.20)" >JNJ-64619178</text>
<text x="3.50" y="243.00" font-family='"Liberation Serif", serif' font-size="23.5" font-weight="bold" text-anchor="start" fill="#000" >C</text>
<text x="101.10" y="245.20" font-family='"Liberation Serif", serif' font-size="13" font-weight="normal" text-anchor="start" fill="#111"  textLength="79.5" lengthAdjust="spacingAndGlyphs">SK-N-BE(2)-C</text>
<text x="212.70" y="245.20" font-family='"Liberation Serif", serif' font-size="13" font-weight="normal" text-anchor="start" fill="#111"  textLength="28.6" lengthAdjust="spacingAndGlyphs">Kelly</text>
<text x="155.10" y="264.60" font-family='"Liberation Serif", serif' font-size="9" font-weight="normal" text-anchor="start" fill="#222"  textLength="14.4" lengthAdjust="spacingAndGlyphs">24h</text>
<text x="175.40" y="264.60" font-family='"Liberation Serif", serif' font-size="9" font-weight="normal" text-anchor="start" fill="#222"  textLength="14.4" lengthAdjust="spacingAndGlyphs">48h</text>
<text x="219.10" y="264.60" font-family='"Liberation Serif", serif' font-size="9" font-weight="normal" text-anchor="start" fill="#222"  textLength="14.4" lengthAdjust="spacingAndGlyphs">24h</text>
<text x="239.20" y="264.60" font-family='"Liberation Serif", serif' font-size="9" font-weight="normal" text-anchor="start" fill="#222"  textLength="14.4" lengthAdjust="spacingAndGlyphs">48h</text>
<text x="147.60" y="279.60" font-family='"Liberation Serif", serif' font-size="11.5" font-weight="normal" text-anchor="middle" fill="#222" >-</text>
<text x="165.10" y="279.60" font-family='"Liberation Serif", serif' font-size="11.5" font-weight="normal" text-anchor="middle" fill="#222" >+</text>
<text x="182.60" y="279.60" font-family='"Liberation Serif", serif' font-size="11.5" font-weight="normal" text-anchor="middle" fill="#222" >+</text>
<text x="211.10" y="279.60" font-family='"Liberation Serif", serif' font-size="11.5" font-weight="normal" text-anchor="middle" fill="#222" >-</text>
<text x="228.10" y="279.60" font-family='"Liberation Serif", serif' font-size="11.5" font-weight="normal" text-anchor="middle" fill="#222" >+</text>
<text x="245.70" y="279.60" font-family='"Liberation Serif", serif' font-size="11.5" font-weight="normal" text-anchor="middle" fill="#222" >+</text>
<text x="26.80" y="280.00" font-family='"Liberation Serif", serif' font-size="12.8" font-weight="normal" text-anchor="start" fill="#111" >IC</text>
<text x="39.90" y="282.18" font-family='"Liberation Serif", serif' font-size="7.8" font-weight="normal" text-anchor="start" fill="#111" >50</text>
<text x="51.90" y="280.00" font-family='"Liberation Serif", serif' font-size="12.8" font-weight="normal" text-anchor="start" fill="#111"  textLength="77.1" lengthAdjust="spacingAndGlyphs">JNJ-64619178</text>
<text x="24.60" y="300.30" font-family='"Liberation Serif", serif' font-size="12.8" font-weight="normal" text-anchor="start" fill="#1a1a1a"  textLength="56.2" lengthAdjust="spacingAndGlyphs">methylated</text>
<text x="86.40" y="300.30" font-family='"Liberation Serif", serif' font-size="12.8" font-weight="normal" text-anchor="start" fill="#1a1a1a"  textLength="48.3" lengthAdjust="spacingAndGlyphs">SNRPD3</text>
<text x="86.50" y="323.90" font-family='"Liberation Serif", serif' font-size="12.8" font-weight="normal" text-anchor="start" fill="#1a1a1a"  textLength="48.1" lengthAdjust="spacingAndGlyphs">SNRPD3</text>
<text x="92.10" y="350.00" font-family='"Liberation Serif", serif' font-size="12.8" font-weight="normal" text-anchor="start" fill="#1a1a1a"  textLength="42.1" lengthAdjust="spacingAndGlyphs">PRMT5</text>
<text x="89.40" y="371.60" font-family='"Liberation Serif", serif' font-size="12.8" font-weight="normal" text-anchor="start" fill="#1a1a1a"  textLength="44.8" lengthAdjust="spacingAndGlyphs">GAPDH</text>
<rect x="141.10" y="284.00" width="47.60" height="20.80" fill="#e9e9e9" stroke="none" stroke-width="1" />
<rect x="141.70" y="294.15" width="15.40" height="5.10" rx="5.50" ry="2.55" fill="#000" fill-opacity="0.171" filter="url(#bl2)" transform="rotate(-3.22 149.40 296.70)"/>
<rect x="142.30" y="295.05" width="14.20" height="3.30" rx="4.50" ry="1.65" fill="#000" fill-opacity="0.95" filter="url(#bl)" transform="rotate(-3.22 149.40 296.70)"/>
<rect x="158.70" y="294.45" width="13.70" height="4.30" rx="5.17" ry="2.15" fill="#000" fill-opacity="0.063" filter="url(#bl2)"/>
<rect x="159.30" y="295.35" width="12.50" height="2.50" rx="4.17" ry="1.25" fill="#000" fill-opacity="0.35" filter="url(#bl)"/>
<rect x="173.40" y="294.35" width="14.20" height="4.10" rx="5.33" ry="2.05" fill="#000" fill-opacity="0.022" filter="url(#bl2)"/>
<rect x="174.00" y="295.25" width="13.00" height="2.30" rx="4.33" ry="1.15" fill="#000" fill-opacity="0.12" filter="url(#bl)"/>
<rect x="141.10" y="284.00" width="47.60" height="20.80" fill="none" stroke="#2a2a2a" stroke-width="1.0" />
<rect x="141.10" y="308.20" width="47.60" height="23.20" fill="#fbfbfb" stroke="none" stroke-width="1" />
<rect x="141.40" y="316.25" width="16.20" height="5.90" rx="5.50" ry="2.95" fill="#000" fill-opacity="0.175" filter="url(#bl2)"/>
<rect x="142.00" y="317.15" width="15.00" height="4.10" rx="4.50" ry="2.05" fill="#000" fill-opacity="0.97" filter="url(#bl)"/>
<rect x="157.40" y="316.15" width="15.70" height="6.10" rx="5.50" ry="3.05" fill="#000" fill-opacity="0.175" filter="url(#bl2)"/>
<rect x="158.00" y="317.05" width="14.50" height="4.30" rx="4.50" ry="2.15" fill="#000" fill-opacity="0.97" filter="url(#bl)"/>
<rect x="172.90" y="316.55" width="15.70" height="5.70" rx="5.50" ry="2.85" fill="#000" fill-opacity="0.171" filter="url(#bl2)"/>
<rect x="173.50" y="317.45" width="14.50" height="3.90" rx="4.50" ry="1.95" fill="#000" fill-opacity="0.95" filter="url(#bl)"/>
<rect x="141.10" y="308.20" width="47.60" height="23.20" fill="none" stroke="#2a2a2a" stroke-width="1.0" />
<rect x="141.10" y="335.40" width="47.60" height="18.90" fill="#fafafa" stroke="none" stroke-width="1" />
<rect x="142.80" y="343.45" width="14.80" height="4.70" rx="5.50" ry="2.35" fill="#000" fill-opacity="0.162" filter="url(#bl2)"/>
<rect x="143.40" y="344.35" width="13.60" height="2.90" rx="4.50" ry="1.45" fill="#000" fill-opacity="0.9" filter="url(#bl)"/>
<rect x="158.70" y="343.40" width="13.20" height="4.40" rx="5.00" ry="2.20" fill="#000" fill-opacity="0.153" filter="url(#bl2)"/>
<rect x="159.30" y="344.30" width="12.00" height="2.60" rx="4.00" ry="1.30" fill="#000" fill-opacity="0.85" filter="url(#bl)"/>
<rect x="173.20" y="343.55" width="14.40" height="4.90" rx="5.40" ry="2.45" fill="#000" fill-opacity="0.166" filter="url(#bl2)"/>
<rect x="173.80" y="344.45" width="13.20" height="3.10" rx="4.40" ry="1.55" fill="#000" fill-opacity="0.92" filter="url(#bl)"/>
<rect x="141.10" y="335.40" width="47.60" height="18.90" fill="none" stroke="#2a2a2a" stroke-width="1.0" />
<rect x="140.30" y="357.40" width="47.50" height="20.40" fill="#f4f4f4" stroke="none" stroke-width="1" />
<rect x="141.40" y="367.25" width="15.70" height="5.30" rx="5.50" ry="2.65" fill="#000" fill-opacity="0.158" filter="url(#bl2)"/>
<rect x="142.00" y="368.15" width="14.50" height="3.50" rx="4.50" ry="1.75" fill="#000" fill-opacity="0.88" filter="url(#bl)"/>
<rect x="157.40" y="367.50" width="14.20" height="5.00" rx="5.33" ry="2.50" fill="#000" fill-opacity="0.148" filter="url(#bl2)"/>
<rect x="158.00" y="368.40" width="13.00" height="3.20" rx="4.33" ry="1.60" fill="#000" fill-opacity="0.82" filter="url(#bl)"/>
<rect x="172.40" y="367.15" width="14.70" height="5.10" rx="5.50" ry="2.55" fill="#000" fill-opacity="0.153" filter="url(#bl2)"/>
<rect x="173.00" y="368.05" width="13.50" height="3.30" rx="4.50" ry="1.65" fill="#000" fill-opacity="0.85" filter="url(#bl)"/>
<rect x="140.30" y="357.40" width="47.50" height="20.40" fill="none" stroke="#2a2a2a" stroke-width="1.0" />
<rect x="202.00" y="284.30" width="53.50" height="21.00" fill="#ececec" stroke="none" stroke-width="1" />
<rect x="204.80" y="292.25" width="16.00" height="5.10" rx="5.50" ry="2.55" fill="#000" fill-opacity="0.171" filter="url(#bl2)"/>
<rect x="205.40" y="293.15" width="14.80" height="3.30" rx="4.50" ry="1.65" fill="#000" fill-opacity="0.95" filter="url(#bl)"/>
<rect x="221.40" y="293.55" width="15.20" height="3.90" rx="5.50" ry="1.95" fill="#000" fill-opacity="0.036" filter="url(#bl2)"/>
<rect x="222.00" y="294.45" width="14.00" height="2.10" rx="4.50" ry="1.05" fill="#000" fill-opacity="0.2" filter="url(#bl)"/>
<rect x="239.40" y="294.15" width="11.50" height="4.30" rx="4.43" ry="2.15" fill="#000" fill-opacity="0.108" filter="url(#bl2)"/>
<rect x="240.00" y="295.05" width="10.30" height="2.50" rx="3.43" ry="1.25" fill="#000" fill-opacity="0.6" filter="url(#bl)"/>
<rect x="202.00" y="284.30" width="53.50" height="21.00" fill="none" stroke="#2a2a2a" stroke-width="1.0" />
<rect x="202.00" y="309.40" width="53.50" height="23.20" fill="#fbfbfb" stroke="none" stroke-width="1" />
<rect x="202.90" y="318.90" width="17.70" height="6.00" rx="5.50" ry="3.00" fill="#000" fill-opacity="0.175" filter="url(#bl2)"/>
<rect x="203.50" y="319.80" width="16.50" height="4.20" rx="4.50" ry="2.10" fill="#000" fill-opacity="0.97" filter="url(#bl)"/>
<rect x="220.40" y="318.80" width="18.20" height="5.80" rx="5.50" ry="2.90" fill="#000" fill-opacity="0.171" filter="url(#bl2)"/>
<rect x="221.00" y="319.70" width="17.00" height="4.00" rx="4.50" ry="2.00" fill="#000" fill-opacity="0.95" filter="url(#bl)"/>
<rect x="238.40" y="319.05" width="17.20" height="6.30" rx="5.50" ry="3.15" fill="#000" fill-opacity="0.175" filter="url(#bl2)"/>
<rect x="239.00" y="319.95" width="16.00" height="4.50" rx="4.50" ry="2.25" fill="#000" fill-opacity="0.97" filter="url(#bl)"/>
<rect x="202.00" y="309.40" width="53.50" height="23.20" fill="none" stroke="#2a2a2a" stroke-width="1.0" />
<rect x="201.20" y="335.40" width="53.30" height="18.00" fill="#fafafa" stroke="none" stroke-width="1" />
<rect x="202.90" y="342.75" width="16.20" height="4.90" rx="5.50" ry="2.45" fill="#000" fill-opacity="0.166" filter="url(#bl2)"/>
<rect x="203.50" y="343.65" width="15.00" height="3.10" rx="4.50" ry="1.55" fill="#000" fill-opacity="0.92" filter="url(#bl)"/>
<rect x="220.40" y="342.30" width="15.70" height="4.60" rx="5.50" ry="2.30" fill="#000" fill-opacity="0.153" filter="url(#bl2)"/>
<rect x="221.00" y="343.20" width="14.50" height="2.80" rx="4.50" ry="1.40" fill="#000" fill-opacity="0.85" filter="url(#bl)"/>
<rect x="236.90" y="341.45" width="15.20" height="4.50" rx="5.50" ry="2.25" fill="#000" fill-opacity="0.144" filter="url(#bl2)"/>
<rect x="237.50" y="342.35" width="14.00" height="2.70" rx="4.50" ry="1.35" fill="#000" fill-opacity="0.8" filter="url(#bl)"/>
<rect x="201.20" y="335.40" width="53.30" height="18.00" fill="none" stroke="#2a2a2a" stroke-width="1.0" />
<rect x="201.20" y="356.50" width="53.30" height="21.10" fill="#f4f4f4" stroke="none" stroke-width="1" />
<rect x="201.90" y="365.65" width="15.20" height="5.10" rx="5.50" ry="2.55" fill="#000" fill-opacity="0.153" filter="url(#bl2)"/>
<rect x="202.50" y="366.55" width="14.00" height="3.30" rx="4.50" ry="1.65" fill="#000" fill-opacity="0.85" filter="url(#bl)"/>
<rect x="217.40" y="365.55" width="16.20" height="4.90" rx="5.50" ry="2.45" fill="#000" fill-opacity="0.144" filter="url(#bl2)"/>
<rect x="218.00" y="366.45" width="15.00" height="3.10" rx="4.50" ry="1.55" fill="#000" fill-opacity="0.8" filter="url(#bl)"/>
<rect x="234.90" y="365.35" width="16.70" height="4.90" rx="5.50" ry="2.45" fill="#000" fill-opacity="0.140" filter="url(#bl2)"/>
<rect x="235.50" y="366.25" width="15.50" height="3.10" rx="4.50" ry="1.55" fill="#000" fill-opacity="0.78" filter="url(#bl)"/>
<rect x="201.20" y="356.50" width="53.30" height="21.10" fill="none" stroke="#2a2a2a" stroke-width="1.0" />
<line x1="259.00" y1="291.70" x2="273.20" y2="291.70" stroke="#333" stroke-width="1" />
<text x="276.20" y="295.20" font-family='"Liberation Serif", serif' font-size="10.5" font-weight="normal" text-anchor="start" fill="#222" >15</text>
<line x1="259.00" y1="322.70" x2="273.20" y2="322.70" stroke="#333" stroke-width="1" />
<text x="276.20" y="326.20" font-family='"Liberation Serif", serif' font-size="10.5" font-weight="normal" text-anchor="start" fill="#222" >15</text>
<line x1="259.00" y1="340.10" x2="273.20" y2="340.10" stroke="#333" stroke-width="1" />
<text x="276.20" y="343.60" font-family='"Liberation Serif", serif' font-size="10.5" font-weight="normal" text-anchor="start" fill="#222" >75</text>
<line x1="259.00" y1="368.40" x2="273.20" y2="368.40" stroke="#333" stroke-width="1" />
<text x="276.20" y="371.90" font-family='"Liberation Serif", serif' font-size="10.5" font-weight="normal" text-anchor="start" fill="#222" >37</text>
<text x="261.50" y="387.70" font-family='"Liberation Serif", serif' font-size="10.5" font-weight="normal" text-anchor="start" fill="#222" >(kDa)</text>
<line x1="366.40" y1="252.70" x2="366.40" y2="361.70" stroke="#000" stroke-width="1.1" />
<line x1="365.80" y1="361.10" x2="449.80" y2="361.10" stroke="#000" stroke-width="1.1" />
<line x1="363.40" y1="361.10" x2="366.40" y2="361.10" stroke="#000" stroke-width="1" />
<text x="362.60" y="363.70" font-family='"Liberation Serif", serif' font-size="7.6" font-weight="bold" text-anchor="end" fill="#000" >0</text>
<line x1="363.40" y1="343.12" x2="366.40" y2="343.12" stroke="#000" stroke-width="1" />
<text x="362.60" y="345.72" font-family='"Liberation Serif", serif' font-size="7.6" font-weight="bold" text-anchor="end" fill="#000" >20</text>
<line x1="363.40" y1="325.13" x2="366.40" y2="325.13" stroke="#000" stroke-width="1" />
<text x="362.60" y="327.73" font-family='"Liberation Serif", serif' font-size="7.6" font-weight="bold" text-anchor="end" fill="#000" >40</text>
<line x1="363.40" y1="307.15" x2="366.40" y2="307.15" stroke="#000" stroke-width="1" />
<text x="362.60" y="309.75" font-family='"Liberation Serif", serif' font-size="7.6" font-weight="bold" text-anchor="end" fill="#000" >60</text>
<line x1="363.40" y1="289.16" x2="366.40" y2="289.16" stroke="#000" stroke-width="1" />
<text x="362.60" y="291.76" font-family='"Liberation Serif", serif' font-size="7.6" font-weight="bold" text-anchor="end" fill="#000" >80</text>
<line x1="363.40" y1="271.18" x2="366.40" y2="271.18" stroke="#000" stroke-width="1" />
<text x="362.60" y="273.78" font-family='"Liberation Serif", serif' font-size="7.6" font-weight="bold" text-anchor="end" fill="#000" >100</text>
<line x1="363.40" y1="253.20" x2="366.40" y2="253.20" stroke="#000" stroke-width="1" />
<text x="362.60" y="255.80" font-family='"Liberation Serif", serif' font-size="7.6" font-weight="bold" text-anchor="end" fill="#000" >120</text>
<rect x="371.10" y="271.18" width="10.90" height="89.92" fill="#000" stroke="none" stroke-width="1" />
<line x1="376.55" y1="361.10" x2="376.55" y2="364.10" stroke="#000" stroke-width="1" />
<rect x="389.30" y="312.72" width="10.30" height="48.38" fill="#000" stroke="none" stroke-width="1" />
<line x1="394.45" y1="312.72" x2="394.45" y2="308.50" stroke="#000" stroke-width="0.9" />
<line x1="391.65" y1="308.50" x2="397.25" y2="308.50" stroke="#000" stroke-width="0.9" />
<line x1="394.45" y1="361.10" x2="394.45" y2="364.10" stroke="#000" stroke-width="1" />
<rect x="417.10" y="271.18" width="10.50" height="89.92" fill="#a8a8a8" stroke="none" stroke-width="1" />
<line x1="422.35" y1="361.10" x2="422.35" y2="364.10" stroke="#000" stroke-width="1" />
<rect x="434.60" y="316.86" width="10.50" height="44.24" fill="#a8a8a8" stroke="none" stroke-width="1" />
<line x1="439.85" y1="316.86" x2="439.85" y2="307.60" stroke="#a8a8a8" stroke-width="0.9" />
<line x1="437.05" y1="307.60" x2="442.65" y2="307.60" stroke="#a8a8a8" stroke-width="0.9" />
<line x1="439.85" y1="361.10" x2="439.85" y2="364.10" stroke="#000" stroke-width="1" />
<path d="M376.55 266.00 L376.55 262.50 L394.45 262.50 L394.45 305.00" stroke="#666" stroke-width="0.8" fill="none" />
<text x="385.50" y="257.90" font-family='"Liberation Serif", serif' font-size="6.8" font-weight="normal" text-anchor="middle" fill="#1a1a1a" >0.0018</text>
<path d="M422.35 266.00 L422.35 262.50 L439.85 262.50 L439.85 304.10" stroke="#666" stroke-width="0.8" fill="none" />
<text x="431.10" y="257.90" font-family='"Liberation Serif", serif' font-size="6.8" font-weight="normal" text-anchor="middle" fill="#1a1a1a" >0.0009</text>
<text x="407.40" y="236.00" font-family='"Liberation Serif", serif' font-size="8.5" font-weight="normal" text-anchor="middle" fill="#222" >SK-N-BE(2)-C</text>
<text x="326.50" y="306.50" font-family='"Liberation Serif", serif' font-size="8.6" font-weight="bold" text-anchor="middle" fill="#000" transform="rotate(-90 326.50 306.50)"  textLength="80.2" lengthAdjust="spacingAndGlyphs">methylated SNRPD3</text>
<text x="336.30" y="306.50" font-family='"Liberation Serif", serif' font-size="8.6" font-weight="bold" text-anchor="middle" fill="#000" transform="rotate(-90 336.30 306.50)"  textLength="44.4" lengthAdjust="spacingAndGlyphs">expression</text>
<text x="346.00" y="306.50" font-family='"Liberation Serif", serif' font-size="8.6" font-weight="bold" text-anchor="middle" fill="#000" transform="rotate(-90 346.00 306.50)"  textLength="91" lengthAdjust="spacingAndGlyphs">(% of vehicle control)</text>
<rect x="450.50" y="277.70" width="7.00" height="6.50" fill="#000" stroke="none" stroke-width="1" />
<text x="461.50" y="284.00" font-family='"Liberation Serif", serif' font-size="8.9" font-weight="normal" text-anchor="start" fill="#222" >24h</text>
<rect x="450.50" y="289.40" width="7.00" height="6.50" fill="#a8a8a8" stroke="none" stroke-width="1" />
<text x="461.50" y="295.70" font-family='"Liberation Serif", serif' font-size="8.9" font-weight="normal" text-anchor="start" fill="#222" >48h</text>
<text x="379.05" y="370.60" font-family='"Liberation Serif", serif' font-size="8.5" font-weight="bold" text-anchor="end" fill="#000" transform="rotate(-45 379.05 370.60)" >Vehicle</text>
<text x="396.95" y="370.60" font-family='"Liberation Serif", serif' font-size="8.5" font-weight="bold" text-anchor="end" fill="#000" transform="rotate(-45 396.95 370.60)" >JNJ-64619178</text>
<text x="424.85" y="370.60" font-family='"Liberation Serif", serif' font-size="8.5" font-weight="bold" text-anchor="end" fill="#000" transform="rotate(-45 424.85 370.60)" >Vehicle</text>
<text x="442.35" y="370.60" font-family='"Liberation Serif", serif' font-size="8.5" font-weight="bold" text-anchor="end" fill="#000" transform="rotate(-45 442.35 370.60)" >JNJ-64619178</text>
<line x1="540.50" y1="252.70" x2="540.50" y2="361.70" stroke="#000" stroke-width="1.1" />
<line x1="539.90" y1="361.10" x2="623.90" y2="361.10" stroke="#000" stroke-width="1.1" />
<line x1="537.50" y1="361.10" x2="540.50" y2="361.10" stroke="#000" stroke-width="1" />
<text x="536.70" y="363.70" font-family='"Liberation Serif", serif' font-size="7.6" font-weight="bold" text-anchor="end" fill="#000" >0</text>
<line x1="537.50" y1="343.12" x2="540.50" y2="343.12" stroke="#000" stroke-width="1" />
<text x="536.70" y="345.72" font-family='"Liberation Serif", serif' font-size="7.6" font-weight="bold" text-anchor="end" fill="#000" >20</text>
<line x1="537.50" y1="325.13" x2="540.50" y2="325.13" stroke="#000" stroke-width="1" />
<text x="536.70" y="327.73" font-family='"Liberation Serif", serif' font-size="7.6" font-weight="bold" text-anchor="end" fill="#000" >40</text>
<line x1="537.50" y1="307.15" x2="540.50" y2="307.15" stroke="#000" stroke-width="1" />
<text x="536.70" y="309.75" font-family='"Liberation Serif", serif' font-size="7.6" font-weight="bold" text-anchor="end" fill="#000" >60</text>
<line x1="537.50" y1="289.16" x2="540.50" y2="289.16" stroke="#000" stroke-width="1" />
<text x="536.70" y="291.76" font-family='"Liberation Serif", serif' font-size="7.6" font-weight="bold" text-anchor="end" fill="#000" >80</text>
<line x1="537.50" y1="271.18" x2="540.50" y2="271.18" stroke="#000" stroke-width="1" />
<text x="536.70" y="273.78" font-family='"Liberation Serif", serif' font-size="7.6" font-weight="bold" text-anchor="end" fill="#000" >100</text>
<line x1="537.50" y1="253.20" x2="540.50" y2="253.20" stroke="#000" stroke-width="1" />
<text x="536.70" y="255.80" font-family='"Liberation Serif", serif' font-size="7.6" font-weight="bold" text-anchor="end" fill="#000" >120</text>
<rect x="545.20" y="271.18" width="10.90" height="89.92" fill="#000" stroke="none" stroke-width="1" />
<line x1="550.65" y1="361.10" x2="550.65" y2="364.10" stroke="#000" stroke-width="1" />
<rect x="563.40" y="321.63" width="10.30" height="39.47" fill="#000" stroke="none" stroke-width="1" />
<line x1="568.55" y1="321.63" x2="568.55" y2="317.94" stroke="#000" stroke-width="0.9" />
<line x1="565.75" y1="317.94" x2="571.35" y2="317.94" stroke="#000" stroke-width="0.9" />
<line x1="568.55" y1="361.10" x2="568.55" y2="364.10" stroke="#000" stroke-width="1" />
<rect x="591.20" y="271.18" width="10.50" height="89.92" fill="#a8a8a8" stroke="none" stroke-width="1" />
<line x1="596.45" y1="361.10" x2="596.45" y2="364.10" stroke="#000" stroke-width="1" />
<rect x="608.70" y="313.44" width="10.50" height="47.66" fill="#a8a8a8" stroke="none" stroke-width="1" />
<line x1="613.95" y1="313.44" x2="613.95" y2="305.98" stroke="#a8a8a8" stroke-width="0.9" />
<line x1="611.15" y1="305.98" x2="616.75" y2="305.98" stroke="#a8a8a8" stroke-width="0.9" />
<line x1="613.95" y1="361.10" x2="613.95" y2="364.10" stroke="#000" stroke-width="1" />
<path d="M550.65 266.00 L550.65 262.50 L568.55 262.50 L568.55 314.44" stroke="#666" stroke-width="0.8" fill="none" />
<text x="559.60" y="257.90" font-family='"Liberation Serif", serif' font-size="6.8" font-weight="normal" text-anchor="middle" fill="#1a1a1a" >0.0001</text>
<path d="M596.45 266.00 L596.45 262.50 L613.95 262.50 L613.95 302.48" stroke="#666" stroke-width="0.8" fill="none" />
<text x="605.20" y="257.90" font-family='"Liberation Serif", serif' font-size="6.8" font-weight="normal" text-anchor="middle" fill="#1a1a1a" >0.0004</text>
<text x="580.00" y="236.00" font-family='"Liberation Serif", serif' font-size="8.5" font-weight="normal" text-anchor="middle" fill="#222" >Kelly</text>
<text x="500.60" y="306.50" font-family='"Liberation Serif", serif' font-size="8.6" font-weight="bold" text-anchor="middle" fill="#000" transform="rotate(-90 500.60 306.50)"  textLength="80.2" lengthAdjust="spacingAndGlyphs">methylated SNRPD3</text>
<text x="510.40" y="306.50" font-family='"Liberation Serif", serif' font-size="8.6" font-weight="bold" text-anchor="middle" fill="#000" transform="rotate(-90 510.40 306.50)"  textLength="44.4" lengthAdjust="spacingAndGlyphs">expression</text>
<text x="520.10" y="306.50" font-family='"Liberation Serif", serif' font-size="8.6" font-weight="bold" text-anchor="middle" fill="#000" transform="rotate(-90 520.10 306.50)"  textLength="91" lengthAdjust="spacingAndGlyphs">(% of vehicle control)</text>
<rect x="624.60" y="277.70" width="7.00" height="6.50" fill="#000" stroke="none" stroke-width="1" />
<text x="635.60" y="284.00" font-family='"Liberation Serif", serif' font-size="8.9" font-weight="normal" text-anchor="start" fill="#222" >24h</text>
<rect x="624.60" y="289.40" width="7.00" height="6.50" fill="#a8a8a8" stroke="none" stroke-width="1" />
<text x="635.60" y="295.70" font-family='"Liberation Serif", serif' font-size="8.9" font-weight="normal" text-anchor="start" fill="#222" >48h</text>
<text x="553.15" y="370.60" font-family='"Liberation Serif", serif' font-size="8.5" font-weight="bold" text-anchor="end" fill="#000" transform="rotate(-45 553.15 370.60)" >Vehicle</text>
<text x="571.05" y="370.60" font-family='"Liberation Serif", serif' font-size="8.5" font-weight="bold" text-anchor="end" fill="#000" transform="rotate(-45 571.05 370.60)" >JNJ-64619178</text>
<text x="598.95" y="370.60" font-family='"Liberation Serif", serif' font-size="8.5" font-weight="bold" text-anchor="end" fill="#000" transform="rotate(-45 598.95 370.60)" >Vehicle</text>
<text x="616.45" y="370.60" font-family='"Liberation Serif", serif' font-size="8.5" font-weight="bold" text-anchor="end" fill="#000" transform="rotate(-45 616.45 370.60)" >JNJ-64619178</text>
<text x="3.00" y="440.50" font-family='"Liberation Serif", serif' font-size="23.5" font-weight="bold" text-anchor="start" fill="#000" >D</text>
<line x1="54.00" y1="455.76" x2="54.00" y2="601.80" stroke="#000" stroke-width="1.3" />
<line x1="53.40" y1="601.20" x2="240.00" y2="601.20" stroke="#000" stroke-width="1.3" />
<line x1="50.50" y1="601.20" x2="54.00" y2="601.20" stroke="#000" stroke-width="1.2" />
<text x="50.20" y="604.90" font-family='"Liberation Serif", serif' font-size="11.8" font-weight="bold" text-anchor="end" fill="#000" >0</text>
<line x1="50.50" y1="576.96" x2="54.00" y2="576.96" stroke="#000" stroke-width="1.2" />
<text x="50.20" y="580.66" font-family='"Liberation Serif", serif' font-size="11.8" font-weight="bold" text-anchor="end" fill="#000" >20</text>
<line x1="50.50" y1="552.72" x2="54.00" y2="552.72" stroke="#000" stroke-width="1.2" />
<text x="50.20" y="556.42" font-family='"Liberation Serif", serif' font-size="11.8" font-weight="bold" text-anchor="end" fill="#000" >40</text>
<line x1="50.50" y1="528.48" x2="54.00" y2="528.48" stroke="#000" stroke-width="1.2" />
<text x="50.20" y="532.18" font-family='"Liberation Serif", serif' font-size="11.8" font-weight="bold" text-anchor="end" fill="#000" >60</text>
<line x1="50.50" y1="504.24" x2="54.00" y2="504.24" stroke="#000" stroke-width="1.2" />
<text x="50.20" y="507.94" font-family='"Liberation Serif", serif' font-size="11.8" font-weight="bold" text-anchor="end" fill="#000" >80</text>
<line x1="50.50" y1="480.00" x2="54.00" y2="480.00" stroke="#000" stroke-width="1.2" />
<text x="50.20" y="483.70" font-family='"Liberation Serif", serif' font-size="11.8" font-weight="bold" text-anchor="end" fill="#000" >100</text>
<line x1="50.50" y1="455.76" x2="54.00" y2="455.76" stroke="#000" stroke-width="1.2" />
<text x="50.20" y="459.46" font-family='"Liberation Serif", serif' font-size="11.8" font-weight="bold" text-anchor="end" fill="#000" >120</text>
<line x1="54.00" y1="601.20" x2="54.00" y2="604.70" stroke="#000" stroke-width="1.2" />
<text x="54.00" y="617.00" font-family='"Liberation Serif", serif' font-size="11.8" font-weight="bold" text-anchor="middle" fill="#000" >0</text>
<line x1="85.00" y1="601.20" x2="85.00" y2="604.70" stroke="#000" stroke-width="1.2" />
<text x="85.00" y="617.00" font-family='"Liberation Serif", serif' font-size="11.8" font-weight="bold" text-anchor="middle" fill="#000" >10</text>
<line x1="116.00" y1="601.20" x2="116.00" y2="604.70" stroke="#000" stroke-width="1.2" />
<text x="116.00" y="617.00" font-family='"Liberation Serif", serif' font-size="11.8" font-weight="bold" text-anchor="middle" fill="#000" >20</text>
<line x1="147.00" y1="601.20" x2="147.00" y2="604.70" stroke="#000" stroke-width="1.2" />
<text x="147.00" y="617.00" font-family='"Liberation Serif", serif' font-size="11.8" font-weight="bold" text-anchor="middle" fill="#000" >30</text>
<line x1="178.00" y1="601.20" x2="178.00" y2="604.70" stroke="#000" stroke-width="1.2" />
<text x="178.00" y="617.00" font-family='"Liberation Serif", serif' font-size="11.8" font-weight="bold" text-anchor="middle" fill="#000" >40</text>
<line x1="209.00" y1="601.20" x2="209.00" y2="604.70" stroke="#000" stroke-width="1.2" />
<text x="209.00" y="617.00" font-family='"Liberation Serif", serif' font-size="11.8" font-weight="bold" text-anchor="middle" fill="#000" >50</text>
<line x1="240.00" y1="601.20" x2="240.00" y2="604.70" stroke="#000" stroke-width="1.2" />
<text x="240.00" y="617.00" font-family='"Liberation Serif", serif' font-size="11.8" font-weight="bold" text-anchor="middle" fill="#000" >60</text>
<text x="147.60" y="633.00" font-family='"Liberation Serif", serif' font-size="12.2" font-weight="normal" text-anchor="middle" fill="#111"  textLength="92" lengthAdjust="spacingAndGlyphs">Concentration (µM)</text>
<text x="13.30" y="527.00" font-family='"Liberation Serif", serif' font-size="11.3" font-weight="bold" text-anchor="middle" fill="#000" transform="rotate(-90 13.30 527.00)"  textLength="63.5" lengthAdjust="spacingAndGlyphs">Cell viability</text>
<text x="25.40" y="527.00" font-family='"Liberation Serif", serif' font-size="11.3" font-weight="bold" text-anchor="middle" fill="#000" transform="rotate(-90 25.40 527.00)"  textLength="109.6" lengthAdjust="spacingAndGlyphs">(% of vehicle control)</text>
<text x="114.20" y="429.90" font-family='"Liberation Serif", serif' font-size="12.2" font-weight="normal" text-anchor="start" fill="#222"  textLength="60.3" lengthAdjust="spacingAndGlyphs">SHEP.tet21n</text>
<text x="114.20" y="443.00" font-family='"Liberation Serif", serif' font-size="12.2" font-weight="normal" text-anchor="start" fill="#222"  textLength="66.8" lengthAdjust="spacingAndGlyphs">JNJ-64619178</text>
<rect x="56.30" y="564.70" width="66.40" height="36.50" fill="#fff" stroke="#8c8c8c" stroke-width="1" />
<line x1="54.30" y1="530.90" x2="54.30" y2="523.63" stroke="#111" stroke-width="0.9" opacity="0.8"/>
<line x1="52.50" y1="523.63" x2="56.10" y2="523.63" stroke="#111" stroke-width="0.9" opacity="0.8"/>
<line x1="52.50" y1="530.90" x2="56.10" y2="530.90" stroke="#111" stroke-width="0.9" opacity="0.8"/>
<line x1="54.60" y1="532.12" x2="54.60" y2="524.84" stroke="#111" stroke-width="0.9" opacity="0.8"/>
<line x1="52.80" y1="524.84" x2="56.40" y2="524.84" stroke="#111" stroke-width="0.9" opacity="0.8"/>
<line x1="52.80" y1="532.12" x2="56.40" y2="532.12" stroke="#111" stroke-width="0.9" opacity="0.8"/>
<line x1="55.21" y1="533.69" x2="55.21" y2="526.42" stroke="#111" stroke-width="0.9" opacity="0.8"/>
<line x1="53.41" y1="526.42" x2="57.01" y2="526.42" stroke="#111" stroke-width="0.9" opacity="0.8"/>
<line x1="53.41" y1="533.69" x2="57.01" y2="533.69" stroke="#111" stroke-width="0.9" opacity="0.8"/>
<line x1="56.42" y1="535.87" x2="56.42" y2="528.60" stroke="#111" stroke-width="0.9" opacity="0.8"/>
<line x1="54.62" y1="528.60" x2="58.22" y2="528.60" stroke="#111" stroke-width="0.9" opacity="0.8"/>
<line x1="54.62" y1="535.87" x2="58.22" y2="535.87" stroke="#111" stroke-width="0.9" opacity="0.8"/>
<line x1="58.84" y1="538.66" x2="58.84" y2="533.81" stroke="#111" stroke-width="0.9" opacity="0.8"/>
<line x1="57.04" y1="533.81" x2="60.64" y2="533.81" stroke="#111" stroke-width="0.9" opacity="0.8"/>
<line x1="57.04" y1="538.66" x2="60.64" y2="538.66" stroke="#111" stroke-width="0.9" opacity="0.8"/>
<line x1="63.69" y1="546.66" x2="63.69" y2="543.02" stroke="#111" stroke-width="0.9" opacity="0.8"/>
<line x1="61.89" y1="543.02" x2="65.49" y2="543.02" stroke="#111" stroke-width="0.9" opacity="0.8"/>
<line x1="61.89" y1="546.66" x2="65.49" y2="546.66" stroke="#111" stroke-width="0.9" opacity="0.8"/>
<line x1="73.38" y1="552.84" x2="73.38" y2="550.42" stroke="#111" stroke-width="0.9" opacity="0.8"/>
<line x1="71.58" y1="550.42" x2="75.17" y2="550.42" stroke="#111" stroke-width="0.9" opacity="0.8"/>
<line x1="71.58" y1="552.84" x2="75.17" y2="552.84" stroke="#111" stroke-width="0.9" opacity="0.8"/>
<line x1="92.75" y1="556.84" x2="92.75" y2="553.20" stroke="#111" stroke-width="0.9" opacity="0.8"/>
<line x1="90.95" y1="553.20" x2="94.55" y2="553.20" stroke="#111" stroke-width="0.9" opacity="0.8"/>
<line x1="90.95" y1="556.84" x2="94.55" y2="556.84" stroke="#111" stroke-width="0.9" opacity="0.8"/>
<line x1="131.50" y1="568.96" x2="131.50" y2="556.84" stroke="#111" stroke-width="0.9" opacity="0.8"/>
<line x1="129.70" y1="556.84" x2="133.30" y2="556.84" stroke="#111" stroke-width="0.9" opacity="0.8"/>
<line x1="129.70" y1="568.96" x2="133.30" y2="568.96" stroke="#111" stroke-width="0.9" opacity="0.8"/>
<line x1="209.00" y1="595.62" x2="209.00" y2="581.08" stroke="#111" stroke-width="0.9" opacity="0.8"/>
<line x1="207.20" y1="581.08" x2="210.80" y2="581.08" stroke="#111" stroke-width="0.9" opacity="0.8"/>
<line x1="207.20" y1="595.62" x2="210.80" y2="595.62" stroke="#111" stroke-width="0.9" opacity="0.8"/>
<line x1="54.30" y1="536.96" x2="54.30" y2="515.15" stroke="#e8222a" stroke-width="0.9" opacity="0.8"/>
<line x1="52.50" y1="515.15" x2="56.10" y2="515.15" stroke="#e8222a" stroke-width="0.9" opacity="0.8"/>
<line x1="52.50" y1="536.96" x2="56.10" y2="536.96" stroke="#e8222a" stroke-width="0.9" opacity="0.8"/>
<line x1="54.60" y1="525.45" x2="54.60" y2="510.91" stroke="#e8222a" stroke-width="0.9" opacity="0.8"/>
<line x1="52.80" y1="510.91" x2="56.40" y2="510.91" stroke="#e8222a" stroke-width="0.9" opacity="0.8"/>
<line x1="52.80" y1="525.45" x2="56.40" y2="525.45" stroke="#e8222a" stroke-width="0.9" opacity="0.8"/>
<line x1="55.21" y1="531.87" x2="55.21" y2="514.91" stroke="#e8222a" stroke-width="0.9" opacity="0.8"/>
<line x1="53.41" y1="514.91" x2="57.01" y2="514.91" stroke="#e8222a" stroke-width="0.9" opacity="0.8"/>
<line x1="53.41" y1="531.87" x2="57.01" y2="531.87" stroke="#e8222a" stroke-width="0.9" opacity="0.8"/>
<line x1="56.42" y1="526.90" x2="56.42" y2="514.78" stroke="#e8222a" stroke-width="0.9" opacity="0.8"/>
<line x1="54.62" y1="514.78" x2="58.22" y2="514.78" stroke="#e8222a" stroke-width="0.9" opacity="0.8"/>
<line x1="54.62" y1="526.90" x2="58.22" y2="526.90" stroke="#e8222a" stroke-width="0.9" opacity="0.8"/>
<line x1="58.84" y1="528.60" x2="58.84" y2="517.69" stroke="#e8222a" stroke-width="0.9" opacity="0.8"/>
<line x1="57.04" y1="517.69" x2="60.64" y2="517.69" stroke="#e8222a" stroke-width="0.9" opacity="0.8"/>
<line x1="57.04" y1="528.60" x2="60.64" y2="528.60" stroke="#e8222a" stroke-width="0.9" opacity="0.8"/>
<line x1="63.69" y1="536.36" x2="63.69" y2="529.09" stroke="#e8222a" stroke-width="0.9" opacity="0.8"/>
<line x1="61.89" y1="529.09" x2="65.49" y2="529.09" stroke="#e8222a" stroke-width="0.9" opacity="0.8"/>
<line x1="61.89" y1="536.36" x2="65.49" y2="536.36" stroke="#e8222a" stroke-width="0.9" opacity="0.8"/>
<line x1="73.38" y1="546.78" x2="73.38" y2="536.60" stroke="#e8222a" stroke-width="0.9" opacity="0.8"/>
<line x1="71.58" y1="536.60" x2="75.17" y2="536.60" stroke="#e8222a" stroke-width="0.9" opacity="0.8"/>
<line x1="71.58" y1="546.78" x2="75.17" y2="546.78" stroke="#e8222a" stroke-width="0.9" opacity="0.8"/>
<line x1="92.75" y1="550.05" x2="92.75" y2="540.84" stroke="#e8222a" stroke-width="0.9" opacity="0.8"/>
<line x1="90.95" y1="540.84" x2="94.55" y2="540.84" stroke="#e8222a" stroke-width="0.9" opacity="0.8"/>
<line x1="90.95" y1="550.05" x2="94.55" y2="550.05" stroke="#e8222a" stroke-width="0.9" opacity="0.8"/>
<line x1="131.50" y1="559.87" x2="131.50" y2="547.75" stroke="#e8222a" stroke-width="0.9" opacity="0.8"/>
<line x1="129.70" y1="547.75" x2="133.30" y2="547.75" stroke="#e8222a" stroke-width="0.9" opacity="0.8"/>
<line x1="129.70" y1="559.87" x2="133.30" y2="559.87" stroke="#e8222a" stroke-width="0.9" opacity="0.8"/>
<line x1="209.00" y1="576.48" x2="209.00" y2="570.42" stroke="#e8222a" stroke-width="0.9" opacity="0.8"/>
<line x1="207.20" y1="570.42" x2="210.80" y2="570.42" stroke="#e8222a" stroke-width="0.9" opacity="0.8"/>
<line x1="207.20" y1="576.48" x2="210.80" y2="576.48" stroke="#e8222a" stroke-width="0.9" opacity="0.8"/>
<path d="M54.00 480.00 L54.30 527.27 L54.60 528.48 L55.21 530.06 L56.42 532.24 L58.84 536.24 L63.69 544.84 L73.38 551.63 L92.75 555.02 L131.50 562.90 L209.00 588.35" stroke="#111" stroke-width="1.4" fill="none"  stroke-linejoin="round"/>
<circle cx="54.00" cy="480.00" r="1.90" fill="#111" />
<circle cx="54.30" cy="527.27" r="1.90" fill="#111" />
<circle cx="54.60" cy="528.48" r="1.90" fill="#111" />
<circle cx="55.21" cy="530.06" r="1.90" fill="#111" />
<circle cx="56.42" cy="532.24" r="1.90" fill="#111" />
<circle cx="58.84" cy="536.24" r="1.90" fill="#111" />
<circle cx="63.69" cy="544.84" r="1.90" fill="#111" />
<circle cx="73.38" cy="551.63" r="1.90" fill="#111" />
<circle cx="92.75" cy="555.02" r="1.90" fill="#111" />
<circle cx="131.50" cy="562.90" r="1.90" fill="#111" />
<circle cx="209.00" cy="588.35" r="1.90" fill="#111" />
<path d="M54.30 526.06 L54.60 518.18 L55.21 523.39 L56.42 520.84 L58.84 523.15 L63.69 532.72 L73.38 541.69 L92.75 545.45 L131.50 553.81 L209.00 573.45" stroke="#e8222a" stroke-width="1.4" fill="none"  stroke-linejoin="round"/>
<circle cx="54.30" cy="526.06" r="1.90" fill="#e8222a" />
<circle cx="54.60" cy="518.18" r="1.90" fill="#e8222a" />
<circle cx="55.21" cy="523.39" r="1.90" fill="#e8222a" />
<circle cx="56.42" cy="520.84" r="1.90" fill="#e8222a" />
<circle cx="58.84" cy="523.15" r="1.90" fill="#e8222a" />
<circle cx="63.69" cy="532.72" r="1.90" fill="#e8222a" />
<circle cx="73.38" cy="541.69" r="1.90" fill="#e8222a" />
<circle cx="92.75" cy="545.45" r="1.90" fill="#e8222a" />
<circle cx="131.50" cy="553.81" r="1.90" fill="#e8222a" />
<circle cx="209.00" cy="573.45" r="1.90" fill="#e8222a" />
<line x1="215.20" y1="478.60" x2="226.20" y2="478.60" stroke="#111" stroke-width="1.3" />
<circle cx="220.70" cy="478.60" r="1.70" fill="#111" />
<text x="232.50" y="482.60" font-family='"Liberation Serif", serif' font-size="11.6" font-weight="normal" text-anchor="start" fill="#111" >Vehicle</text>
<line x1="215.20" y1="493.30" x2="226.20" y2="493.30" stroke="#e8222a" stroke-width="1.3" />
<circle cx="220.70" cy="493.30" r="1.70" fill="#e8222a" />
<text x="232.50" y="497.30" font-family='"Liberation Serif", serif' font-size="11.6" font-weight="normal" text-anchor="start" fill="#111" >Dox</text>
<text x="58.60" y="575.70" font-family='"Liberation Sans", sans-serif' font-size="9.5" font-weight="normal" text-anchor="start" fill="#222" >IC</text>
<text x="67.60" y="577.30" font-family='"Liberation Sans", sans-serif' font-size="6.6" font-weight="normal" text-anchor="start" fill="#222" >50</text>
<text x="58.60" y="585.70" font-family='"Liberation Sans", sans-serif' font-size="9.2" font-weight="normal" text-anchor="start" fill="#222"  textLength="62.5" lengthAdjust="spacingAndGlyphs">Vehicle = 2.8µM</text>
<text x="58.60" y="595.30" font-family='"Liberation Sans", sans-serif' font-size="9.2" font-weight="normal" text-anchor="start" fill="#222"  textLength="49" lengthAdjust="spacingAndGlyphs">Dox = 6.7µM</text>
<text x="215.60" y="575.65" font-family='"Liberation Sans", sans-serif' font-size="8" font-weight="normal" text-anchor="start" fill="#555"  textLength="12" lengthAdjust="spacingAndGlyphs">****</text>
<text x="215.60" y="592.15" font-family='"Liberation Sans", sans-serif' font-size="8" font-weight="normal" text-anchor="start" fill="#555"  textLength="12" lengthAdjust="spacingAndGlyphs">****</text>
<text x="3.50" y="665.00" font-family='"Liberation Serif", serif' font-size="23.5" font-weight="bold" text-anchor="start" fill="#000" >F</text>
<line x1="53.80" y1="701.00" x2="53.80" y2="844.40" stroke="#000" stroke-width="1.3" />
<line x1="53.20" y1="843.80" x2="238.60" y2="843.80" stroke="#000" stroke-width="1.3" />
<line x1="50.30" y1="843.80" x2="53.80" y2="843.80" stroke="#000" stroke-width="1.2" />
<text x="50.00" y="847.50" font-family='"Liberation Serif", serif' font-size="11.8" font-weight="bold" text-anchor="end" fill="#000" >0</text>
<line x1="50.30" y1="820.00" x2="53.80" y2="820.00" stroke="#000" stroke-width="1.2" />
<text x="50.00" y="823.70" font-family='"Liberation Serif", serif' font-size="11.8" font-weight="bold" text-anchor="end" fill="#000" >20</text>
<line x1="50.30" y1="796.20" x2="53.80" y2="796.20" stroke="#000" stroke-width="1.2" />
<text x="50.00" y="799.90" font-family='"Liberation Serif", serif' font-size="11.8" font-weight="bold" text-anchor="end" fill="#000" >40</text>
<line x1="50.30" y1="772.40" x2="53.80" y2="772.40" stroke="#000" stroke-width="1.2" />
<text x="50.00" y="776.10" font-family='"Liberation Serif", serif' font-size="11.8" font-weight="bold" text-anchor="end" fill="#000" >60</text>
<line x1="50.30" y1="748.60" x2="53.80" y2="748.60" stroke="#000" stroke-width="1.2" />
<text x="50.00" y="752.30" font-family='"Liberation Serif", serif' font-size="11.8" font-weight="bold" text-anchor="end" fill="#000" >80</text>
<line x1="50.30" y1="724.80" x2="53.80" y2="724.80" stroke="#000" stroke-width="1.2" />
<text x="50.00" y="728.50" font-family='"Liberation Serif", serif' font-size="11.8" font-weight="bold" text-anchor="end" fill="#000" >100</text>
<line x1="50.30" y1="701.00" x2="53.80" y2="701.00" stroke="#000" stroke-width="1.2" />
<text x="50.00" y="704.70" font-family='"Liberation Serif", serif' font-size="11.8" font-weight="bold" text-anchor="end" fill="#000" >120</text>
<line x1="53.80" y1="843.80" x2="53.80" y2="847.30" stroke="#000" stroke-width="1.2" />
<text x="53.80" y="858.80" font-family='"Liberation Serif", serif' font-size="11.8" font-weight="bold" text-anchor="middle" fill="#000" >0</text>
<line x1="84.60" y1="843.80" x2="84.60" y2="847.30" stroke="#000" stroke-width="1.2" />
<text x="84.60" y="858.80" font-family='"Liberation Serif", serif' font-size="11.8" font-weight="bold" text-anchor="middle" fill="#000" >10</text>
<line x1="115.40" y1="843.80" x2="115.40" y2="847.30" stroke="#000" stroke-width="1.2" />
<text x="115.40" y="858.80" font-family='"Liberation Serif", serif' font-size="11.8" font-weight="bold" text-anchor="middle" fill="#000" >20</text>
<line x1="146.20" y1="843.80" x2="146.20" y2="847.30" stroke="#000" stroke-width="1.2" />
<text x="146.20" y="858.80" font-family='"Liberation Serif", serif' font-size="11.8" font-weight="bold" text-anchor="middle" fill="#000" >30</text>
<line x1="177.00" y1="843.80" x2="177.00" y2="847.30" stroke="#000" stroke-width="1.2" />
<text x="177.00" y="858.80" font-family='"Liberation Serif", serif' font-size="11.8" font-weight="bold" text-anchor="middle" fill="#000" >40</text>
<line x1="207.80" y1="843.80" x2="207.80" y2="847.30" stroke="#000" stroke-width="1.2" />
<text x="207.80" y="858.80" font-family='"Liberation Serif", serif' font-size="11.8" font-weight="bold" text-anchor="middle" fill="#000" >50</text>
<line x1="238.60" y1="843.80" x2="238.60" y2="847.30" stroke="#000" stroke-width="1.2" />
<text x="238.60" y="858.80" font-family='"Liberation Serif", serif' font-size="11.8" font-weight="bold" text-anchor="middle" fill="#000" >60</text>
<text x="145.70" y="873.80" font-family='"Liberation Serif", serif' font-size="12.2" font-weight="normal" text-anchor="middle" fill="#111"  textLength="90.3" lengthAdjust="spacingAndGlyphs">Concentration (µM)</text>
<text x="14.60" y="771.00" font-family='"Liberation Serif", serif' font-size="11.3" font-weight="bold" text-anchor="middle" fill="#000" transform="rotate(-90 14.60 771.00)"  textLength="61.3" lengthAdjust="spacingAndGlyphs">Cell viability</text>
<text x="27.60" y="771.00" font-family='"Liberation Serif", serif' font-size="11.3" font-weight="bold" text-anchor="middle" fill="#000" transform="rotate(-90 27.60 771.00)"  textLength="130" lengthAdjust="spacingAndGlyphs">(% of non-treated control)</text>
<text x="145.65" y="669.50" font-family='"Liberation Serif", serif' font-size="12.2" font-weight="normal" text-anchor="middle" fill="#222"  textLength="110.5" lengthAdjust="spacingAndGlyphs">BE2C.shSNRPD3 #2</text>
<text x="145.75" y="683.80" font-family='"Liberation Serif", serif' font-size="12.2" font-weight="normal" text-anchor="middle" fill="#222"  textLength="75.3" lengthAdjust="spacingAndGlyphs">JNJ-64619178</text>
<rect x="56.20" y="808.10" width="66.00" height="35.70" fill="#fff" stroke="#8c8c8c" stroke-width="1" />
<line x1="54.10" y1="785.01" x2="54.10" y2="775.49" stroke="#111" stroke-width="0.9" opacity="0.8"/>
<line x1="52.30" y1="775.49" x2="55.90" y2="775.49" stroke="#111" stroke-width="0.9" opacity="0.8"/>
<line x1="52.30" y1="785.01" x2="55.90" y2="785.01" stroke="#111" stroke-width="0.9" opacity="0.8"/>
<line x1="54.40" y1="787.27" x2="54.40" y2="775.38" stroke="#111" stroke-width="0.9" opacity="0.8"/>
<line x1="52.60" y1="775.38" x2="56.20" y2="775.38" stroke="#111" stroke-width="0.9" opacity="0.8"/>
<line x1="52.60" y1="787.27" x2="56.20" y2="787.27" stroke="#111" stroke-width="0.9" opacity="0.8"/>
<line x1="55.00" y1="788.46" x2="55.00" y2="776.56" stroke="#111" stroke-width="0.9" opacity="0.8"/>
<line x1="53.20" y1="776.56" x2="56.80" y2="776.56" stroke="#111" stroke-width="0.9" opacity="0.8"/>
<line x1="53.20" y1="788.46" x2="56.80" y2="788.46" stroke="#111" stroke-width="0.9" opacity="0.8"/>
<line x1="56.20" y1="789.42" x2="56.20" y2="779.90" stroke="#111" stroke-width="0.9" opacity="0.8"/>
<line x1="54.40" y1="779.90" x2="58.00" y2="779.90" stroke="#111" stroke-width="0.9" opacity="0.8"/>
<line x1="54.40" y1="789.42" x2="58.00" y2="789.42" stroke="#111" stroke-width="0.9" opacity="0.8"/>
<line x1="58.61" y1="792.03" x2="58.61" y2="783.70" stroke="#111" stroke-width="0.9" opacity="0.8"/>
<line x1="56.81" y1="783.70" x2="60.41" y2="783.70" stroke="#111" stroke-width="0.9" opacity="0.8"/>
<line x1="56.81" y1="792.03" x2="60.41" y2="792.03" stroke="#111" stroke-width="0.9" opacity="0.8"/>
<line x1="63.42" y1="793.94" x2="63.42" y2="786.80" stroke="#111" stroke-width="0.9" opacity="0.8"/>
<line x1="61.62" y1="786.80" x2="65.22" y2="786.80" stroke="#111" stroke-width="0.9" opacity="0.8"/>
<line x1="61.62" y1="793.94" x2="65.22" y2="793.94" stroke="#111" stroke-width="0.9" opacity="0.8"/>
<line x1="73.05" y1="796.08" x2="73.05" y2="781.80" stroke="#111" stroke-width="0.9" opacity="0.8"/>
<line x1="71.25" y1="781.80" x2="74.85" y2="781.80" stroke="#111" stroke-width="0.9" opacity="0.8"/>
<line x1="71.25" y1="796.08" x2="74.85" y2="796.08" stroke="#111" stroke-width="0.9" opacity="0.8"/>
<line x1="92.30" y1="802.15" x2="92.30" y2="783.11" stroke="#111" stroke-width="0.9" opacity="0.8"/>
<line x1="90.50" y1="783.11" x2="94.10" y2="783.11" stroke="#111" stroke-width="0.9" opacity="0.8"/>
<line x1="90.50" y1="802.15" x2="94.10" y2="802.15" stroke="#111" stroke-width="0.9" opacity="0.8"/>
<line x1="130.80" y1="816.43" x2="130.80" y2="784.30" stroke="#111" stroke-width="0.9" opacity="0.8"/>
<line x1="129.00" y1="784.30" x2="132.60" y2="784.30" stroke="#111" stroke-width="0.9" opacity="0.8"/>
<line x1="129.00" y1="816.43" x2="132.60" y2="816.43" stroke="#111" stroke-width="0.9" opacity="0.8"/>
<line x1="207.80" y1="837.02" x2="207.80" y2="815.60" stroke="#111" stroke-width="0.9" opacity="0.8"/>
<line x1="206.00" y1="815.60" x2="209.60" y2="815.60" stroke="#111" stroke-width="0.9" opacity="0.8"/>
<line x1="206.00" y1="837.02" x2="209.60" y2="837.02" stroke="#111" stroke-width="0.9" opacity="0.8"/>
<line x1="54.10" y1="756.93" x2="54.10" y2="749.79" stroke="#e8222a" stroke-width="0.9" opacity="0.8"/>
<line x1="52.30" y1="749.79" x2="55.90" y2="749.79" stroke="#e8222a" stroke-width="0.9" opacity="0.8"/>
<line x1="52.30" y1="756.93" x2="55.90" y2="756.93" stroke="#e8222a" stroke-width="0.9" opacity="0.8"/>
<line x1="54.40" y1="764.66" x2="54.40" y2="755.14" stroke="#e8222a" stroke-width="0.9" opacity="0.8"/>
<line x1="52.60" y1="755.14" x2="56.20" y2="755.14" stroke="#e8222a" stroke-width="0.9" opacity="0.8"/>
<line x1="52.60" y1="764.66" x2="56.20" y2="764.66" stroke="#e8222a" stroke-width="0.9" opacity="0.8"/>
<line x1="55.00" y1="767.64" x2="55.00" y2="758.12" stroke="#e8222a" stroke-width="0.9" opacity="0.8"/>
<line x1="53.20" y1="758.12" x2="56.80" y2="758.12" stroke="#e8222a" stroke-width="0.9" opacity="0.8"/>
<line x1="53.20" y1="767.64" x2="56.80" y2="767.64" stroke="#e8222a" stroke-width="0.9" opacity="0.8"/>
<line x1="56.20" y1="767.76" x2="56.20" y2="760.62" stroke="#e8222a" stroke-width="0.9" opacity="0.8"/>
<line x1="54.40" y1="760.62" x2="58.00" y2="760.62" stroke="#e8222a" stroke-width="0.9" opacity="0.8"/>
<line x1="54.40" y1="767.76" x2="58.00" y2="767.76" stroke="#e8222a" stroke-width="0.9" opacity="0.8"/>
<line x1="58.61" y1="766.81" x2="58.61" y2="757.29" stroke="#e8222a" stroke-width="0.9" opacity="0.8"/>
<line x1="56.81" y1="757.29" x2="60.41" y2="757.29" stroke="#e8222a" stroke-width="0.9" opacity="0.8"/>
<line x1="56.81" y1="766.81" x2="60.41" y2="766.81" stroke="#e8222a" stroke-width="0.9" opacity="0.8"/>
<line x1="63.42" y1="772.64" x2="63.42" y2="764.31" stroke="#e8222a" stroke-width="0.9" opacity="0.8"/>
<line x1="61.62" y1="764.31" x2="65.22" y2="764.31" stroke="#e8222a" stroke-width="0.9" opacity="0.8"/>
<line x1="61.62" y1="772.64" x2="65.22" y2="772.64" stroke="#e8222a" stroke-width="0.9" opacity="0.8"/>
<line x1="73.05" y1="772.76" x2="73.05" y2="762.05" stroke="#e8222a" stroke-width="0.9" opacity="0.8"/>
<line x1="71.25" y1="762.05" x2="74.85" y2="762.05" stroke="#e8222a" stroke-width="0.9" opacity="0.8"/>
<line x1="71.25" y1="772.76" x2="74.85" y2="772.76" stroke="#e8222a" stroke-width="0.9" opacity="0.8"/>
<line x1="92.30" y1="773.00" x2="92.30" y2="761.09" stroke="#e8222a" stroke-width="0.9" opacity="0.8"/>
<line x1="90.50" y1="761.09" x2="94.10" y2="761.09" stroke="#e8222a" stroke-width="0.9" opacity="0.8"/>
<line x1="90.50" y1="773.00" x2="94.10" y2="773.00" stroke="#e8222a" stroke-width="0.9" opacity="0.8"/>
<line x1="130.80" y1="770.73" x2="130.80" y2="758.83" stroke="#e8222a" stroke-width="0.9" opacity="0.8"/>
<line x1="129.00" y1="758.83" x2="132.60" y2="758.83" stroke="#e8222a" stroke-width="0.9" opacity="0.8"/>
<line x1="129.00" y1="770.73" x2="132.60" y2="770.73" stroke="#e8222a" stroke-width="0.9" opacity="0.8"/>
<line x1="207.80" y1="821.67" x2="207.80" y2="815.72" stroke="#e8222a" stroke-width="0.9" opacity="0.8"/>
<line x1="206.00" y1="815.72" x2="209.60" y2="815.72" stroke="#e8222a" stroke-width="0.9" opacity="0.8"/>
<line x1="206.00" y1="821.67" x2="209.60" y2="821.67" stroke="#e8222a" stroke-width="0.9" opacity="0.8"/>
<path d="M53.80 724.80 L54.10 780.25 L54.40 781.32 L55.00 782.51 L56.20 784.66 L58.61 787.87 L63.42 790.37 L73.05 788.94 L92.30 792.63 L130.80 800.37 L207.80 826.31" stroke="#111" stroke-width="1.4" fill="none"  stroke-linejoin="round"/>
<circle cx="53.80" cy="724.80" r="1.90" fill="#111" />
<circle cx="54.10" cy="780.25" r="1.90" fill="#111" />
<circle cx="54.40" cy="781.32" r="1.90" fill="#111" />
<circle cx="55.00" cy="782.51" r="1.90" fill="#111" />
<circle cx="56.20" cy="784.66" r="1.90" fill="#111" />
<circle cx="58.61" cy="787.87" r="1.90" fill="#111" />
<circle cx="63.42" cy="790.37" r="1.90" fill="#111" />
<circle cx="73.05" cy="788.94" r="1.90" fill="#111" />
<circle cx="92.30" cy="792.63" r="1.90" fill="#111" />
<circle cx="130.80" cy="800.37" r="1.90" fill="#111" />
<circle cx="207.80" cy="826.31" r="1.90" fill="#111" />
<path d="M54.10 753.36 L54.40 759.90 L55.00 762.88 L56.20 764.19 L58.61 762.05 L63.42 768.47 L73.05 767.40 L92.30 767.04 L130.80 764.78 L207.80 818.69" stroke="#e8222a" stroke-width="1.4" fill="none"  stroke-linejoin="round"/>
<circle cx="54.10" cy="753.36" r="1.90" fill="#e8222a" />
<circle cx="54.40" cy="759.90" r="1.90" fill="#e8222a" />
<circle cx="55.00" cy="762.88" r="1.90" fill="#e8222a" />
<circle cx="56.20" cy="764.19" r="1.90" fill="#e8222a" />
<circle cx="58.61" cy="762.05" r="1.90" fill="#e8222a" />
<circle cx="63.42" cy="768.47" r="1.90" fill="#e8222a" />
<circle cx="73.05" cy="767.40" r="1.90" fill="#e8222a" />
<circle cx="92.30" cy="767.04" r="1.90" fill="#e8222a" />
<circle cx="130.80" cy="764.78" r="1.90" fill="#e8222a" />
<circle cx="207.80" cy="818.69" r="1.90" fill="#e8222a" />
<line x1="208.70" y1="706.80" x2="220.00" y2="706.80" stroke="#111" stroke-width="1.3" />
<circle cx="214.35" cy="706.80" r="1.70" fill="#111" />
<text x="226.60" y="710.80" font-family='"Liberation Serif", serif' font-size="11.6" font-weight="normal" text-anchor="start" fill="#111" >Vehicle</text>
<line x1="208.70" y1="723.90" x2="220.00" y2="723.90" stroke="#e8222a" stroke-width="1.3" />
<circle cx="214.35" cy="723.90" r="1.70" fill="#e8222a" />
<text x="226.60" y="727.90" font-family='"Liberation Serif", serif' font-size="11.6" font-weight="normal" text-anchor="start" fill="#111" >Dox</text>
<text x="58.50" y="818.50" font-family='"Liberation Sans", sans-serif' font-size="9.5" font-weight="normal" text-anchor="start" fill="#222" >IC</text>
<text x="67.50" y="820.10" font-family='"Liberation Sans", sans-serif' font-size="6.6" font-weight="normal" text-anchor="start" fill="#222" >50</text>
<line x1="58.50" y1="820.70" x2="74.50" y2="820.70" stroke="#444" stroke-width="0.6" />
<text x="58.50" y="829.30" font-family='"Liberation Sans", sans-serif' font-size="9.2" font-weight="normal" text-anchor="start" fill="#222"  textLength="62.5" lengthAdjust="spacingAndGlyphs">Vehicle = 0.8µM</text>
<text x="58.50" y="839.20" font-family='"Liberation Sans", sans-serif' font-size="9.2" font-weight="normal" text-anchor="start" fill="#222"  textLength="53.5" lengthAdjust="spacingAndGlyphs">Dox = 24.9µM</text>
<text x="211.00" y="820.69" font-family='"Liberation Sans", sans-serif' font-size="8" font-weight="normal" text-anchor="start" fill="#555"  textLength="12" lengthAdjust="spacingAndGlyphs">****</text>
<text x="211.00" y="830.11" font-family='"Liberation Sans", sans-serif' font-size="8" font-weight="normal" text-anchor="start" fill="#555"  textLength="12" lengthAdjust="spacingAndGlyphs">****</text>
<text x="304.50" y="439.90" font-family='"Liberation Serif", serif' font-size="23.5" font-weight="bold" text-anchor="start" fill="#000" >E</text>
<text x="383.80" y="442.70" font-family='"Liberation Serif", serif' font-size="11.6" font-weight="normal" text-anchor="start" fill="#111"  textLength="54.9" lengthAdjust="spacingAndGlyphs">SHEP.tet21n</text>
<text x="359.00" y="465.20" font-family='"Liberation Serif", serif' font-size="10.8" font-weight="normal" text-anchor="start" fill="#222"  textLength="15.1" lengthAdjust="spacingAndGlyphs">Dox</text>
<text x="296.60" y="480.00" font-family='"Liberation Serif", serif' font-size="10.2" font-weight="normal" text-anchor="start" fill="#222" >IC</text>
<text x="307.10" y="481.73" font-family='"Liberation Serif", serif' font-size="6.3" font-weight="normal" text-anchor="start" fill="#222" >50</text>
<text x="315.00" y="480.00" font-family='"Liberation Serif", serif' font-size="10.2" font-weight="normal" text-anchor="start" fill="#222"  textLength="55.2" lengthAdjust="spacingAndGlyphs">JNJ-64619178</text>
<text x="385.50" y="465.20" font-family='"Liberation Serif", serif' font-size="11.2" font-weight="normal" text-anchor="middle" fill="#222" >-</text>
<text x="404.00" y="465.20" font-family='"Liberation Serif", serif' font-size="11.2" font-weight="normal" text-anchor="middle" fill="#222" >-</text>
<text x="423.10" y="465.20" font-family='"Liberation Serif", serif' font-size="11.2" font-weight="normal" text-anchor="middle" fill="#222" >+</text>
<text x="441.00" y="465.20" font-family='"Liberation Serif", serif' font-size="11.2" font-weight="normal" text-anchor="middle" fill="#222" >+</text>
<text x="385.50" y="480.30" font-family='"Liberation Serif", serif' font-size="11.2" font-weight="normal" text-anchor="middle" fill="#222" >-</text>
<text x="404.00" y="480.30" font-family='"Liberation Serif", serif' font-size="11.2" font-weight="normal" text-anchor="middle" fill="#222" >+</text>
<text x="423.10" y="480.30" font-family='"Liberation Serif", serif' font-size="11.2" font-weight="normal" text-anchor="middle" fill="#222" >-</text>
<text x="441.00" y="480.30" font-family='"Liberation Serif", serif' font-size="11.2" font-weight="normal" text-anchor="middle" fill="#222" >+</text>
<text x="279.70" y="499.50" font-family='"Liberation Serif", serif' font-size="10.9" font-weight="normal" text-anchor="start" fill="#2a2a2a"  textLength="48.2" lengthAdjust="spacingAndGlyphs">methylated</text>
<text x="332.30" y="499.50" font-family='"Liberation Serif", serif' font-size="10.9" font-weight="normal" text-anchor="start" fill="#2a2a2a"  textLength="41" lengthAdjust="spacingAndGlyphs">SNRPD3</text>
<text x="332.30" y="523.40" font-family='"Liberation Serif", serif' font-size="10.9" font-weight="normal" text-anchor="start" fill="#2a2a2a"  textLength="41" lengthAdjust="spacingAndGlyphs">SNRPD3</text>
<text x="337.50" y="542.80" font-family='"Liberation Serif", serif' font-size="10.9" font-weight="normal" text-anchor="start" fill="#2a2a2a"  textLength="35.8" lengthAdjust="spacingAndGlyphs">PRMT5</text>
<text x="340.40" y="559.20" font-family='"Liberation Serif", serif' font-size="10.9" font-weight="normal" text-anchor="start" fill="#2a2a2a"  textLength="32.9" lengthAdjust="spacingAndGlyphs">MYCN</text>
<text x="335.90" y="579.70" font-family='"Liberation Serif", serif' font-size="10.9" font-weight="normal" text-anchor="start" fill="#2a2a2a"  textLength="37.5" lengthAdjust="spacingAndGlyphs">GAPDH</text>
<rect x="376.70" y="487.40" width="75.10" height="18.50" fill="#fbfbfb" stroke="none" stroke-width="1" />
<rect x="379.90" y="493.75" width="20.50" height="6.90" rx="5.50" ry="3.45" fill="#000" fill-opacity="0.175" filter="url(#bl2)"/>
<rect x="380.50" y="494.65" width="19.30" height="5.10" rx="4.50" ry="2.55" fill="#000" fill-opacity="0.97" filter="url(#bl)"/>
<rect x="400.90" y="495.55" width="16.70" height="4.50" rx="5.50" ry="2.25" fill="#000" fill-opacity="0.153" filter="url(#bl2)"/>
<rect x="401.50" y="496.45" width="15.50" height="2.70" rx="4.50" ry="1.35" fill="#000" fill-opacity="0.85" filter="url(#bl)"/>
<rect x="419.90" y="495.00" width="13.70" height="4.40" rx="5.17" ry="2.20" fill="#000" fill-opacity="0.144" filter="url(#bl2)"/>
<rect x="420.50" y="495.90" width="12.50" height="2.60" rx="4.17" ry="1.30" fill="#000" fill-opacity="0.8" filter="url(#bl)"/>
<rect x="437.70" y="495.55" width="12.60" height="3.70" rx="4.80" ry="1.85" fill="#000" fill-opacity="0.022" filter="url(#bl2)"/>
<rect x="438.30" y="496.45" width="11.40" height="1.90" rx="3.80" ry="0.95" fill="#000" fill-opacity="0.12" filter="url(#bl)"/>
<rect x="376.70" y="487.40" width="75.10" height="18.50" fill="none" stroke="#2a2a2a" stroke-width="1.0" />
<rect x="376.70" y="510.10" width="75.10" height="18.10" fill="#fbfbfb" stroke="none" stroke-width="1" />
<rect x="378.40" y="516.05" width="20.20" height="6.30" rx="5.50" ry="3.15" fill="#000" fill-opacity="0.171" filter="url(#bl2)"/>
<rect x="379.00" y="516.95" width="19.00" height="4.50" rx="4.50" ry="2.25" fill="#000" fill-opacity="0.95" filter="url(#bl)"/>
<rect x="398.90" y="516.45" width="18.70" height="6.30" rx="5.50" ry="3.15" fill="#000" fill-opacity="0.167" filter="url(#bl2)"/>
<rect x="399.50" y="517.35" width="17.50" height="4.50" rx="4.50" ry="2.25" fill="#000" fill-opacity="0.93" filter="url(#bl)"/>
<rect x="418.40" y="516.95" width="14.20" height="5.10" rx="5.33" ry="2.55" fill="#000" fill-opacity="0.126" filter="url(#bl2)"/>
<rect x="419.00" y="517.85" width="13.00" height="3.30" rx="4.33" ry="1.65" fill="#000" fill-opacity="0.7" filter="url(#bl)"/>
<rect x="434.90" y="517.35" width="15.70" height="4.90" rx="5.50" ry="2.45" fill="#000" fill-opacity="0.099" filter="url(#bl2)"/>
<rect x="435.50" y="518.25" width="14.50" height="3.10" rx="4.50" ry="1.55" fill="#000" fill-opacity="0.55" filter="url(#bl)"/>
<rect x="376.70" y="510.10" width="75.10" height="18.10" fill="none" stroke="#2a2a2a" stroke-width="1.0" />
<rect x="376.70" y="531.70" width="75.10" height="13.50" fill="#fbfbfb" stroke="none" stroke-width="1" />
<rect x="377.40" y="537.25" width="19.20" height="5.50" rx="5.50" ry="2.75" fill="#000" fill-opacity="0.166" filter="url(#bl2)"/>
<rect x="378.00" y="538.15" width="18.00" height="3.70" rx="4.50" ry="1.85" fill="#000" fill-opacity="0.92" filter="url(#bl)"/>
<rect x="397.40" y="537.40" width="17.20" height="6.00" rx="5.50" ry="3.00" fill="#000" fill-opacity="0.171" filter="url(#bl2)"/>
<rect x="398.00" y="538.30" width="16.00" height="4.20" rx="4.50" ry="2.10" fill="#000" fill-opacity="0.95" filter="url(#bl)"/>
<rect x="416.40" y="536.20" width="15.20" height="5.00" rx="5.50" ry="2.50" fill="#000" fill-opacity="0.144" filter="url(#bl2)"/>
<rect x="417.00" y="537.10" width="14.00" height="3.20" rx="4.50" ry="1.60" fill="#000" fill-opacity="0.8" filter="url(#bl)"/>
<rect x="434.40" y="536.60" width="15.20" height="5.00" rx="5.50" ry="2.50" fill="#000" fill-opacity="0.135" filter="url(#bl2)"/>
<rect x="435.00" y="537.50" width="14.00" height="3.20" rx="4.50" ry="1.60" fill="#000" fill-opacity="0.75" filter="url(#bl)"/>
<rect x="376.70" y="531.70" width="75.10" height="13.50" fill="none" stroke="#2a2a2a" stroke-width="1.0" />
<rect x="376.70" y="549.70" width="75.10" height="13.50" fill="#fbfbfb" stroke="none" stroke-width="1" />
<rect x="377.40" y="552.05" width="18.20" height="6.50" rx="5.50" ry="3.25" fill="#000" fill-opacity="0.166" filter="url(#bl2)"/>
<rect x="378.00" y="552.95" width="17.00" height="4.70" rx="4.50" ry="2.35" fill="#000" fill-opacity="0.92" filter="url(#bl)"/>
<rect x="398.40" y="551.55" width="17.20" height="7.50" rx="5.50" ry="3.75" fill="#000" fill-opacity="0.180" filter="url(#bl2)"/>
<rect x="399.00" y="552.45" width="16.00" height="5.70" rx="4.50" ry="2.85" fill="#000" fill-opacity="1.0" filter="url(#bl)"/>
<rect x="376.70" y="549.70" width="75.10" height="13.50" fill="none" stroke="#2a2a2a" stroke-width="1.0" />
<rect x="376.70" y="567.20" width="75.10" height="18.80" fill="#fbfbfb" stroke="none" stroke-width="1" />
<rect x="378.40" y="575.05" width="19.20" height="5.50" rx="5.50" ry="2.75" fill="#000" fill-opacity="0.166" filter="url(#bl2)"/>
<rect x="379.00" y="575.95" width="18.00" height="3.70" rx="4.50" ry="1.85" fill="#000" fill-opacity="0.92" filter="url(#bl)"/>
<rect x="398.40" y="575.95" width="18.20" height="5.50" rx="5.50" ry="2.75" fill="#000" fill-opacity="0.162" filter="url(#bl2)"/>
<rect x="399.00" y="576.85" width="17.00" height="3.70" rx="4.50" ry="1.85" fill="#000" fill-opacity="0.9" filter="url(#bl)"/>
<rect x="417.40" y="575.75" width="16.20" height="5.30" rx="5.50" ry="2.65" fill="#000" fill-opacity="0.158" filter="url(#bl2)"/>
<rect x="418.00" y="576.65" width="15.00" height="3.50" rx="4.50" ry="1.75" fill="#000" fill-opacity="0.88" filter="url(#bl)"/>
<rect x="434.40" y="575.25" width="17.20" height="5.50" rx="5.50" ry="2.75" fill="#000" fill-opacity="0.162" filter="url(#bl2)"/>
<rect x="435.00" y="576.15" width="16.00" height="3.70" rx="4.50" ry="1.85" fill="#000" fill-opacity="0.9" filter="url(#bl)"/>
<rect x="376.70" y="567.20" width="75.10" height="18.80" fill="none" stroke="#2a2a2a" stroke-width="1.0" />
<line x1="454.20" y1="497.20" x2="466.00" y2="497.20" stroke="#333" stroke-width="1" />
<text x="468.10" y="500.80" font-family='"Liberation Serif", serif' font-size="10.2" font-weight="normal" text-anchor="start" fill="#222" >15</text>
<line x1="454.20" y1="518.80" x2="466.00" y2="518.80" stroke="#333" stroke-width="1" />
<text x="468.10" y="522.40" font-family='"Liberation Serif", serif' font-size="10.2" font-weight="normal" text-anchor="start" fill="#222" >15</text>
<line x1="454.20" y1="532.60" x2="466.00" y2="532.60" stroke="#333" stroke-width="1" />
<text x="468.10" y="536.20" font-family='"Liberation Serif", serif' font-size="10.2" font-weight="normal" text-anchor="start" fill="#222" >75</text>
<line x1="454.20" y1="551.80" x2="466.00" y2="551.80" stroke="#333" stroke-width="1" />
<text x="468.10" y="555.40" font-family='"Liberation Serif", serif' font-size="10.2" font-weight="normal" text-anchor="start" fill="#222" >50</text>
<line x1="454.20" y1="578.10" x2="466.00" y2="578.10" stroke="#333" stroke-width="1" />
<text x="468.10" y="581.70" font-family='"Liberation Serif", serif' font-size="10.2" font-weight="normal" text-anchor="start" fill="#222" >37</text>
<text x="457.60" y="592.10" font-family='"Liberation Serif", serif' font-size="10.2" font-weight="normal" text-anchor="start" fill="#222"  textLength="22.4" lengthAdjust="spacingAndGlyphs">(kDa)</text>
<line x1="542.40" y1="455.96" x2="542.40" y2="574.30" stroke="#000" stroke-width="1.1" />
<line x1="541.80" y1="573.70" x2="646.50" y2="573.70" stroke="#000" stroke-width="1.1" />
<line x1="539.40" y1="573.70" x2="542.40" y2="573.70" stroke="#000" stroke-width="1" />
<text x="539.00" y="576.30" font-family='"Liberation Serif", serif' font-size="7.6" font-weight="bold" text-anchor="end" fill="#000" >0</text>
<line x1="539.40" y1="554.16" x2="542.40" y2="554.16" stroke="#000" stroke-width="1" />
<text x="539.00" y="556.76" font-family='"Liberation Serif", serif' font-size="7.6" font-weight="bold" text-anchor="end" fill="#000" >20</text>
<line x1="539.40" y1="534.62" x2="542.40" y2="534.62" stroke="#000" stroke-width="1" />
<text x="539.00" y="537.22" font-family='"Liberation Serif", serif' font-size="7.6" font-weight="bold" text-anchor="end" fill="#000" >40</text>
<line x1="539.40" y1="515.08" x2="542.40" y2="515.08" stroke="#000" stroke-width="1" />
<text x="539.00" y="517.68" font-family='"Liberation Serif", serif' font-size="7.6" font-weight="bold" text-anchor="end" fill="#000" >60</text>
<line x1="539.40" y1="495.54" x2="542.40" y2="495.54" stroke="#000" stroke-width="1" />
<text x="539.00" y="498.14" font-family='"Liberation Serif", serif' font-size="7.6" font-weight="bold" text-anchor="end" fill="#000" >80</text>
<line x1="539.40" y1="476.00" x2="542.40" y2="476.00" stroke="#000" stroke-width="1" />
<text x="539.00" y="478.60" font-family='"Liberation Serif", serif' font-size="7.6" font-weight="bold" text-anchor="end" fill="#000" >100</text>
<line x1="539.40" y1="456.46" x2="542.40" y2="456.46" stroke="#000" stroke-width="1" />
<text x="539.00" y="459.06" font-family='"Liberation Serif", serif' font-size="7.6" font-weight="bold" text-anchor="end" fill="#000" >120</text>
<rect x="551.90" y="476.00" width="18.80" height="97.70" fill="#000" stroke="none" stroke-width="1" />
<line x1="561.30" y1="573.70" x2="561.30" y2="576.70" stroke="#000" stroke-width="1" />
<rect x="572.80" y="563.34" width="18.30" height="10.36" fill="#000" stroke="none" stroke-width="1" />
<line x1="581.95" y1="563.34" x2="581.95" y2="559.63" stroke="#000" stroke-width="1" />
<line x1="577.65" y1="559.63" x2="586.25" y2="559.63" stroke="#000" stroke-width="1" />
<line x1="581.95" y1="573.70" x2="581.95" y2="576.70" stroke="#000" stroke-width="1" />
<rect x="598.90" y="476.00" width="18.10" height="97.70" fill="#a8a8a8" stroke="none" stroke-width="1" />
<line x1="607.95" y1="573.70" x2="607.95" y2="576.70" stroke="#000" stroke-width="1" />
<rect x="619.30" y="515.08" width="18.10" height="58.62" fill="#a8a8a8" stroke="none" stroke-width="1" />
<line x1="628.35" y1="515.08" x2="628.35" y2="512.83" stroke="#a8a8a8" stroke-width="1" />
<line x1="624.05" y1="512.83" x2="632.65" y2="512.83" stroke="#a8a8a8" stroke-width="1" />
<line x1="628.35" y1="573.70" x2="628.35" y2="576.70" stroke="#000" stroke-width="1" />
<path d="M561.30 471.40 L561.30 466.30 L582.00 466.30 L582.00 557.90" stroke="#666" stroke-width="0.8" fill="none" />
<text x="571.65" y="462.80" font-family='"Liberation Serif", serif' font-size="7.2" font-weight="normal" text-anchor="middle" fill="#1a1a1a" >&lt;0.0001</text>
<path d="M608.00 471.40 L608.00 466.30 L628.30 466.30 L628.30 509.33" stroke="#666" stroke-width="0.8" fill="none" />
<text x="618.15" y="462.80" font-family='"Liberation Serif", serif' font-size="7.2" font-weight="normal" text-anchor="middle" fill="#1a1a1a" >&lt;0.0001</text>
<text x="567.30" y="443.50" font-family='"Liberation Serif", serif' font-size="12.3" font-weight="normal" text-anchor="start" fill="#111"  textLength="59.9" lengthAdjust="spacingAndGlyphs">SHEP.tet21n</text>
<text x="507.00" y="513.30" font-family='"Liberation Serif", serif' font-size="8.6" font-weight="bold" text-anchor="middle" fill="#000" transform="rotate(-90 507.00 513.30)"  textLength="85.5" lengthAdjust="spacingAndGlyphs">methylated SNRPD3</text>
<text x="516.30" y="513.30" font-family='"Liberation Serif", serif' font-size="8.6" font-weight="bold" text-anchor="middle" fill="#000" transform="rotate(-90 516.30 513.30)"  textLength="43.7" lengthAdjust="spacingAndGlyphs">expression</text>
<text x="525.60" y="513.30" font-family='"Liberation Serif", serif' font-size="8.6" font-weight="bold" text-anchor="middle" fill="#000" transform="rotate(-90 525.60 513.30)"  textLength="109.2" lengthAdjust="spacingAndGlyphs">(% of non-treated control)</text>
<rect x="652.00" y="461.00" width="7.30" height="6.70" fill="#000" stroke="none" stroke-width="1" />
<text x="662.50" y="467.50" font-family='"Liberation Serif", serif' font-size="8.6" font-weight="normal" text-anchor="start" fill="#222"  textLength="21" lengthAdjust="spacingAndGlyphs">Vehicle</text>
<rect x="652.00" y="473.00" width="7.30" height="6.70" fill="#a8a8a8" stroke="none" stroke-width="1" />
<text x="662.50" y="479.50" font-family='"Liberation Serif", serif' font-size="8.6" font-weight="normal" text-anchor="start" fill="#222"  textLength="12.5" lengthAdjust="spacingAndGlyphs">Dox</text>
<text x="505.30" y="587.70" font-family='"Liberation Serif", serif' font-size="9.2" font-weight="normal" text-anchor="start" fill="#222"  textLength="37.6" lengthAdjust="spacingAndGlyphs">2 µg/mL Dox</text>
<text x="558.80" y="587.70" font-family='"Liberation Serif", serif' font-size="10.12" font-weight="normal" text-anchor="middle" fill="#222" >-</text>
<text x="579.60" y="587.70" font-family='"Liberation Serif", serif' font-size="10.12" font-weight="normal" text-anchor="middle" fill="#222" >-</text>
<text x="604.00" y="587.70" font-family='"Liberation Serif", serif' font-size="10.12" font-weight="normal" text-anchor="middle" fill="#222" >+</text>
<text x="624.60" y="587.70" font-family='"Liberation Serif", serif' font-size="10.12" font-weight="normal" text-anchor="middle" fill="#222" >+</text>
<text x="558.80" y="601.90" font-family='"Liberation Serif", serif' font-size="10.12" font-weight="normal" text-anchor="middle" fill="#222" >-</text>
<text x="579.60" y="601.90" font-family='"Liberation Serif", serif' font-size="10.12" font-weight="normal" text-anchor="middle" fill="#222" >+</text>
<text x="604.00" y="601.90" font-family='"Liberation Serif", serif' font-size="10.12" font-weight="normal" text-anchor="middle" fill="#222" >-</text>
<text x="624.60" y="601.90" font-family='"Liberation Serif", serif' font-size="10.12" font-weight="normal" text-anchor="middle" fill="#222" >+</text>
<text x="486.80" y="601.90" font-family='"Liberation Serif", serif' font-size="7.8" font-weight="normal" text-anchor="start" fill="#222" >IC</text>
<text x="494.90" y="603.23" font-family='"Liberation Serif", serif' font-size="5.4" font-weight="normal" text-anchor="start" fill="#222" >50</text>
<text x="500.10" y="601.90" font-family='"Liberation Serif", serif' font-size="7.8" font-weight="normal" text-anchor="start" fill="#222"  textLength="42.9" lengthAdjust="spacingAndGlyphs">JNJ-64619178</text>
<text x="301.00" y="664.40" font-family='"Liberation Serif", serif' font-size="23.5" font-weight="bold" text-anchor="start" fill="#000" >G</text>
<text x="351.90" y="670.30" font-family='"Liberation Serif", serif' font-size="11.6" font-weight="normal" text-anchor="start" fill="#111"  textLength="102" lengthAdjust="spacingAndGlyphs">BE2C.shSNRPD3 #2</text>
<text x="359.00" y="694.20" font-family='"Liberation Serif", serif' font-size="11.2" font-weight="normal" text-anchor="start" fill="#222"  textLength="16.8" lengthAdjust="spacingAndGlyphs">Dox</text>
<text x="292.60" y="710.60" font-family='"Liberation Serif", serif' font-size="10.8" font-weight="normal" text-anchor="start" fill="#222" >IC</text>
<text x="303.70" y="712.44" font-family='"Liberation Serif", serif' font-size="6.8" font-weight="normal" text-anchor="start" fill="#222" >50</text>
<text x="312.30" y="710.60" font-family='"Liberation Serif", serif' font-size="10.8" font-weight="normal" text-anchor="start" fill="#222"  textLength="58.7" lengthAdjust="spacingAndGlyphs">JNJ-64619178</text>
<text x="385.20" y="694.60" font-family='"Liberation Serif", serif' font-size="11.8" font-weight="normal" text-anchor="middle" fill="#222" >-</text>
<text x="399.50" y="694.60" font-family='"Liberation Serif", serif' font-size="11.8" font-weight="normal" text-anchor="middle" fill="#222" >-</text>
<text x="413.70" y="694.60" font-family='"Liberation Serif", serif' font-size="11.8" font-weight="normal" text-anchor="middle" fill="#222" >+</text>
<text x="428.30" y="694.60" font-family='"Liberation Serif", serif' font-size="11.8" font-weight="normal" text-anchor="middle" fill="#222" >+</text>
<text x="385.20" y="710.80" font-family='"Liberation Serif", serif' font-size="11.8" font-weight="normal" text-anchor="middle" fill="#222" >-</text>
<text x="399.50" y="710.80" font-family='"Liberation Serif", serif' font-size="11.8" font-weight="normal" text-anchor="middle" fill="#222" >+</text>
<text x="413.70" y="710.80" font-family='"Liberation Serif", serif' font-size="11.8" font-weight="normal" text-anchor="middle" fill="#222" >-</text>
<text x="428.30" y="710.80" font-family='"Liberation Serif", serif' font-size="11.8" font-weight="normal" text-anchor="middle" fill="#222" >+</text>
<text x="277.40" y="729.50" font-family='"Liberation Serif", serif' font-size="12" font-weight="normal" text-anchor="start" fill="#2a2a2a"  textLength="52.1" lengthAdjust="spacingAndGlyphs">methylated</text>
<text x="334.30" y="729.50" font-family='"Liberation Serif", serif' font-size="12" font-weight="normal" text-anchor="start" fill="#2a2a2a"  textLength="43.4" lengthAdjust="spacingAndGlyphs">SNRPD3</text>
<text x="334.30" y="752.30" font-family='"Liberation Serif", serif' font-size="12" font-weight="normal" text-anchor="start" fill="#2a2a2a"  textLength="43.4" lengthAdjust="spacingAndGlyphs">SNRPD3</text>
<text x="340.00" y="775.70" font-family='"Liberation Serif", serif' font-size="12" font-weight="normal" text-anchor="start" fill="#2a2a2a"  textLength="37.7" lengthAdjust="spacingAndGlyphs">PRMT5</text>
<text x="338.40" y="796.90" font-family='"Liberation Serif", serif' font-size="12" font-weight="normal" text-anchor="start" fill="#2a2a2a"  textLength="39.3" lengthAdjust="spacingAndGlyphs">GAPDH</text>
<rect x="381.10" y="715.50" width="54.50" height="20.90" fill="#f9f9f9" stroke="none" stroke-width="1" />
<rect x="383.40" y="723.15" width="11.20" height="6.10" rx="4.33" ry="3.05" fill="#000" fill-opacity="0.175" filter="url(#bl2)"/>
<rect x="384.00" y="724.05" width="10.00" height="4.30" rx="3.33" ry="2.15" fill="#000" fill-opacity="0.97" filter="url(#bl)"/>
<rect x="395.90" y="724.15" width="10.70" height="4.50" rx="4.17" ry="2.25" fill="#000" fill-opacity="0.063" filter="url(#bl2)"/>
<rect x="396.50" y="725.05" width="9.50" height="2.70" rx="3.17" ry="1.35" fill="#000" fill-opacity="0.35" filter="url(#bl)"/>
<rect x="409.90" y="724.15" width="11.20" height="4.50" rx="4.33" ry="2.25" fill="#000" fill-opacity="0.090" filter="url(#bl2)"/>
<rect x="410.50" y="725.05" width="10.00" height="2.70" rx="3.33" ry="1.35" fill="#000" fill-opacity="0.5" filter="url(#bl)"/>
<rect x="423.90" y="724.45" width="10.20" height="4.30" rx="4.00" ry="2.15" fill="#000" fill-opacity="0.040" filter="url(#bl2)"/>
<rect x="424.50" y="725.35" width="9.00" height="2.50" rx="3.00" ry="1.25" fill="#000" fill-opacity="0.22" filter="url(#bl)"/>
<rect x="381.10" y="715.50" width="54.50" height="20.90" fill="none" stroke="#2a2a2a" stroke-width="1.0" />
<rect x="381.10" y="739.30" width="54.50" height="18.00" fill="#fbfbfb" stroke="none" stroke-width="1" />
<rect x="381.90" y="745.05" width="12.70" height="6.50" rx="4.83" ry="3.25" fill="#000" fill-opacity="0.175" filter="url(#bl2)"/>
<rect x="382.50" y="745.95" width="11.50" height="4.70" rx="3.83" ry="2.35" fill="#000" fill-opacity="0.97" filter="url(#bl)"/>
<rect x="394.40" y="745.25" width="12.70" height="6.50" rx="4.83" ry="3.25" fill="#000" fill-opacity="0.171" filter="url(#bl2)"/>
<rect x="395.00" y="746.15" width="11.50" height="4.70" rx="3.83" ry="2.35" fill="#000" fill-opacity="0.95" filter="url(#bl)"/>
<rect x="409.40" y="746.40" width="11.70" height="5.00" rx="4.50" ry="2.50" fill="#000" fill-opacity="0.108" filter="url(#bl2)"/>
<rect x="410.00" y="747.30" width="10.50" height="3.20" rx="3.50" ry="1.60" fill="#000" fill-opacity="0.6" filter="url(#bl)"/>
<rect x="423.40" y="746.80" width="10.70" height="4.80" rx="4.17" ry="2.40" fill="#000" fill-opacity="0.090" filter="url(#bl2)"/>
<rect x="424.00" y="747.70" width="9.50" height="3.00" rx="3.17" ry="1.50" fill="#000" fill-opacity="0.5" filter="url(#bl)"/>
<rect x="381.10" y="739.30" width="54.50" height="18.00" fill="none" stroke="#2a2a2a" stroke-width="1.0" />
<rect x="381.10" y="759.50" width="55.20" height="21.10" fill="#fbfbfb" stroke="none" stroke-width="1" />
<rect x="382.40" y="768.05" width="12.20" height="5.50" rx="4.67" ry="2.75" fill="#000" fill-opacity="0.166" filter="url(#bl2)"/>
<rect x="383.00" y="768.95" width="11.00" height="3.70" rx="3.67" ry="1.85" fill="#000" fill-opacity="0.92" filter="url(#bl)"/>
<rect x="395.40" y="768.15" width="11.70" height="5.50" rx="4.50" ry="2.75" fill="#000" fill-opacity="0.166" filter="url(#bl2)"/>
<rect x="396.00" y="769.05" width="10.50" height="3.70" rx="3.50" ry="1.85" fill="#000" fill-opacity="0.92" filter="url(#bl)"/>
<rect x="409.40" y="768.85" width="11.70" height="5.10" rx="4.50" ry="2.55" fill="#000" fill-opacity="0.144" filter="url(#bl2)"/>
<rect x="410.00" y="769.75" width="10.50" height="3.30" rx="3.50" ry="1.65" fill="#000" fill-opacity="0.8" filter="url(#bl)"/>
<rect x="423.40" y="769.05" width="10.70" height="5.10" rx="4.17" ry="2.55" fill="#000" fill-opacity="0.144" filter="url(#bl2)"/>
<rect x="424.00" y="769.95" width="9.50" height="3.30" rx="3.17" ry="1.65" fill="#000" fill-opacity="0.8" filter="url(#bl)"/>
<rect x="381.10" y="759.50" width="55.20" height="21.10" fill="none" stroke="#2a2a2a" stroke-width="1.0" />
<rect x="381.10" y="783.40" width="55.20" height="21.30" fill="#fbfbfb" stroke="none" stroke-width="1" />
<rect x="382.40" y="791.15" width="12.20" height="5.70" rx="4.67" ry="2.85" fill="#000" fill-opacity="0.158" filter="url(#bl2)"/>
<rect x="383.00" y="792.05" width="11.00" height="3.90" rx="3.67" ry="1.95" fill="#000" fill-opacity="0.88" filter="url(#bl)"/>
<rect x="394.90" y="791.15" width="11.70" height="5.70" rx="4.50" ry="2.85" fill="#000" fill-opacity="0.148" filter="url(#bl2)"/>
<rect x="395.50" y="792.05" width="10.50" height="3.90" rx="3.50" ry="1.95" fill="#000" fill-opacity="0.82" filter="url(#bl)"/>
<rect x="408.40" y="791.25" width="12.20" height="5.50" rx="4.67" ry="2.75" fill="#000" fill-opacity="0.140" filter="url(#bl2)"/>
<rect x="409.00" y="792.15" width="11.00" height="3.70" rx="3.67" ry="1.85" fill="#000" fill-opacity="0.78" filter="url(#bl)"/>
<rect x="421.90" y="791.25" width="12.20" height="5.50" rx="4.67" ry="2.75" fill="#000" fill-opacity="0.119" filter="url(#bl2)"/>
<rect x="422.50" y="792.15" width="11.00" height="3.70" rx="3.67" ry="1.85" fill="#000" fill-opacity="0.66" filter="url(#bl)"/>
<rect x="381.10" y="783.40" width="55.20" height="21.30" fill="none" stroke="#2a2a2a" stroke-width="1.0" />
<line x1="438.00" y1="726.90" x2="450.60" y2="726.90" stroke="#333" stroke-width="1" />
<text x="453.10" y="730.50" font-family='"Liberation Serif", serif' font-size="10.2" font-weight="normal" text-anchor="start" fill="#222" >15</text>
<line x1="438.00" y1="748.50" x2="450.60" y2="748.50" stroke="#333" stroke-width="1" />
<text x="453.10" y="752.10" font-family='"Liberation Serif", serif' font-size="10.2" font-weight="normal" text-anchor="start" fill="#222" >15</text>
<line x1="438.00" y1="765.60" x2="450.60" y2="765.60" stroke="#333" stroke-width="1" />
<text x="453.10" y="769.20" font-family='"Liberation Serif", serif' font-size="10.2" font-weight="normal" text-anchor="start" fill="#222" >75</text>
<line x1="438.00" y1="793.80" x2="450.60" y2="793.80" stroke="#333" stroke-width="1" />
<text x="453.10" y="797.40" font-family='"Liberation Serif", serif' font-size="10.2" font-weight="normal" text-anchor="start" fill="#222" >37</text>
<text x="442.40" y="809.80" font-family='"Liberation Serif", serif' font-size="10.2" font-weight="normal" text-anchor="start" fill="#222"  textLength="23.8" lengthAdjust="spacingAndGlyphs">(kDa)</text>
<line x1="552.70" y1="685.60" x2="552.70" y2="806.10" stroke="#000" stroke-width="1.1" />
<line x1="552.10" y1="805.50" x2="630.40" y2="805.50" stroke="#000" stroke-width="1.1" />
<line x1="549.70" y1="805.50" x2="552.70" y2="805.50" stroke="#000" stroke-width="1" />
<text x="549.30" y="808.10" font-family='"Liberation Serif", serif' font-size="8.8" font-weight="bold" text-anchor="end" fill="#000" >0</text>
<line x1="549.70" y1="785.60" x2="552.70" y2="785.60" stroke="#000" stroke-width="1" />
<text x="549.30" y="788.20" font-family='"Liberation Serif", serif' font-size="8.8" font-weight="bold" text-anchor="end" fill="#000" >20</text>
<line x1="549.70" y1="765.70" x2="552.70" y2="765.70" stroke="#000" stroke-width="1" />
<text x="549.30" y="768.30" font-family='"Liberation Serif", serif' font-size="8.8" font-weight="bold" text-anchor="end" fill="#000" >40</text>
<line x1="549.70" y1="745.80" x2="552.70" y2="745.80" stroke="#000" stroke-width="1" />
<text x="549.30" y="748.40" font-family='"Liberation Serif", serif' font-size="8.8" font-weight="bold" text-anchor="end" fill="#000" >60</text>
<line x1="549.70" y1="725.90" x2="552.70" y2="725.90" stroke="#000" stroke-width="1" />
<text x="549.30" y="728.50" font-family='"Liberation Serif", serif' font-size="8.8" font-weight="bold" text-anchor="end" fill="#000" >80</text>
<line x1="549.70" y1="706.00" x2="552.70" y2="706.00" stroke="#000" stroke-width="1" />
<text x="549.30" y="708.60" font-family='"Liberation Serif", serif' font-size="8.8" font-weight="bold" text-anchor="end" fill="#000" >100</text>
<line x1="549.70" y1="686.10" x2="552.70" y2="686.10" stroke="#000" stroke-width="1" />
<text x="549.30" y="688.70" font-family='"Liberation Serif", serif' font-size="8.8" font-weight="bold" text-anchor="end" fill="#000" >120</text>
<rect x="558.00" y="706.00" width="11.10" height="99.50" fill="#000" stroke="none" stroke-width="1" />
<line x1="563.55" y1="805.50" x2="563.55" y2="808.50" stroke="#000" stroke-width="1" />
<rect x="574.00" y="767.69" width="10.90" height="37.81" fill="#000" stroke="none" stroke-width="1" />
<line x1="579.45" y1="767.69" x2="579.45" y2="756.25" stroke="#000" stroke-width="1" />
<line x1="575.15" y1="756.25" x2="583.75" y2="756.25" stroke="#000" stroke-width="1" />
<line x1="579.45" y1="805.50" x2="579.45" y2="808.50" stroke="#000" stroke-width="1" />
<rect x="599.70" y="706.00" width="10.80" height="99.50" fill="#a8a8a8" stroke="none" stroke-width="1" />
<line x1="605.10" y1="805.50" x2="605.10" y2="808.50" stroke="#000" stroke-width="1" />
<rect x="615.80" y="739.33" width="10.80" height="66.17" fill="#a8a8a8" stroke="none" stroke-width="1" />
<line x1="621.20" y1="739.33" x2="621.20" y2="734.36" stroke="#a8a8a8" stroke-width="1" />
<line x1="616.90" y1="734.36" x2="625.50" y2="734.36" stroke="#a8a8a8" stroke-width="1" />
<line x1="621.20" y1="805.50" x2="621.20" y2="808.50" stroke="#000" stroke-width="1" />
<path d="M563.50 701.30 L563.50 696.40 L579.40 696.40 L579.40 753.90" stroke="#666" stroke-width="0.8" fill="none" />
<text x="571.45" y="692.00" font-family='"Liberation Serif", serif' font-size="7.2" font-weight="normal" text-anchor="middle" fill="#1a1a1a" >0.0005</text>
<path d="M605.10 701.30 L605.10 696.40 L621.20 696.40 L621.20 732.00" stroke="#666" stroke-width="0.8" fill="none" />
<text x="613.15" y="692.00" font-family='"Liberation Serif", serif' font-size="7.2" font-weight="normal" text-anchor="middle" fill="#1a1a1a" >0.0274</text>
<text x="549.80" y="670.70" font-family='"Liberation Serif", serif' font-size="12.3" font-weight="normal" text-anchor="start" fill="#111"  textLength="99.3" lengthAdjust="spacingAndGlyphs">BE2C.shSNRPD3 #2</text>
<text x="509.50" y="744.50" font-family='"Liberation Serif", serif' font-size="8.7" font-weight="bold" text-anchor="middle" fill="#000" transform="rotate(-90 509.50 744.50)"  textLength="87.3" lengthAdjust="spacingAndGlyphs">methylated SNRPD3</text>
<text x="519.30" y="744.50" font-family='"Liberation Serif", serif' font-size="8.7" font-weight="bold" text-anchor="middle" fill="#000" transform="rotate(-90 519.30 744.50)"  textLength="44.4" lengthAdjust="spacingAndGlyphs">expression</text>
<text x="530.30" y="744.50" font-family='"Liberation Serif", serif' font-size="8.7" font-weight="bold" text-anchor="middle" fill="#000" transform="rotate(-90 530.30 744.50)"  textLength="109.9" lengthAdjust="spacingAndGlyphs">(% of non-treated control)</text>
<rect x="642.70" y="713.60" width="7.30" height="6.70" fill="#000" stroke="none" stroke-width="1" />
<text x="653.20" y="720.10" font-family='"Liberation Serif", serif' font-size="9.8" font-weight="normal" text-anchor="start" fill="#222"  textLength="27" lengthAdjust="spacingAndGlyphs">Vehicle</text>
<rect x="642.70" y="726.70" width="7.30" height="6.70" fill="#a8a8a8" stroke="none" stroke-width="1" />
<text x="653.20" y="733.20" font-family='"Liberation Serif", serif' font-size="9.8" font-weight="normal" text-anchor="start" fill="#222"  textLength="13" lengthAdjust="spacingAndGlyphs">Dox</text>
<text x="509.20" y="819.90" font-family='"Liberation Serif", serif' font-size="9.6" font-weight="normal" text-anchor="start" fill="#222"  textLength="46" lengthAdjust="spacingAndGlyphs">2 µg/mL Dox</text>
<text x="565.30" y="819.90" font-family='"Liberation Serif", serif' font-size="10.56" font-weight="normal" text-anchor="middle" fill="#222" >-</text>
<text x="580.30" y="819.90" font-family='"Liberation Serif", serif' font-size="10.56" font-weight="normal" text-anchor="middle" fill="#222" >-</text>
<text x="606.00" y="819.90" font-family='"Liberation Serif", serif' font-size="10.56" font-weight="normal" text-anchor="middle" fill="#222" >+</text>
<text x="620.20" y="819.90" font-family='"Liberation Serif", serif' font-size="10.56" font-weight="normal" text-anchor="middle" fill="#222" >+</text>
<text x="565.30" y="834.50" font-family='"Liberation Serif", serif' font-size="10.56" font-weight="normal" text-anchor="middle" fill="#222" >-</text>
<text x="580.30" y="834.50" font-family='"Liberation Serif", serif' font-size="10.56" font-weight="normal" text-anchor="middle" fill="#222" >+</text>
<text x="606.00" y="834.50" font-family='"Liberation Serif", serif' font-size="10.56" font-weight="normal" text-anchor="middle" fill="#222" >-</text>
<text x="620.20" y="834.50" font-family='"Liberation Serif", serif' font-size="10.56" font-weight="normal" text-anchor="middle" fill="#222" >+</text>
<text x="486.60" y="835.80" font-family='"Liberation Serif", serif' font-size="9.2" font-weight="normal" text-anchor="start" fill="#222" >IC</text>
<text x="496.10" y="837.36" font-family='"Liberation Serif", serif' font-size="6.2" font-weight="normal" text-anchor="start" fill="#222" >50</text>
<text x="503.90" y="835.80" font-family='"Liberation Serif", serif' font-size="9.2" font-weight="normal" text-anchor="start" fill="#222"  textLength="51.8" lengthAdjust="spacingAndGlyphs">JNJ-64619178</text>
</svg>
</body></html>
